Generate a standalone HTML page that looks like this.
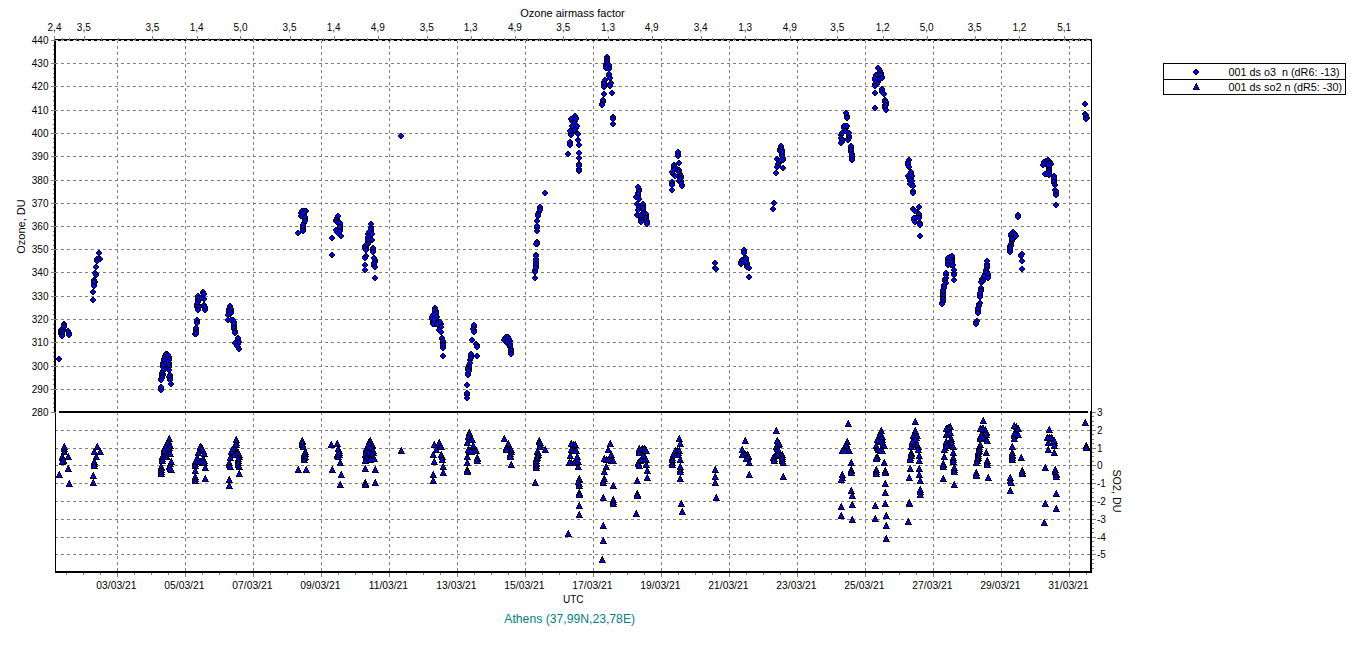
<!DOCTYPE html>
<html><head><meta charset="utf-8"><title>Ozone chart</title>
<style>html,body{margin:0;padding:0;background:#fff;}svg{display:block;}</style></head>
<body><svg width="1361" height="645" viewBox="0 0 1361 645">
<rect width="1361" height="645" fill="#fff"/>
<g stroke="#808080" stroke-width="1" stroke-dasharray="3 3" shape-rendering="crispEdges" fill="none">
<path d="M117.5 40V572"/>
<path d="M185.5 40V572"/>
<path d="M253.5 40V572"/>
<path d="M321.5 40V572"/>
<path d="M389.5 40V572"/>
<path d="M457.5 40V572"/>
<path d="M525.5 40V572"/>
<path d="M593.5 40V572"/>
<path d="M661.5 40V572"/>
<path d="M729.5 40V572"/>
<path d="M797.5 40V572"/>
<path d="M865.5 40V572"/>
<path d="M933.5 40V572"/>
<path d="M1001.5 40V572"/>
<path d="M1069.5 40V572"/>
<path d="M55 63.5H1091"/>
<path d="M55 86.5H1091"/>
<path d="M55 110.5H1091"/>
<path d="M55 133.5H1091"/>
<path d="M55 156.5H1091"/>
<path d="M55 180.5H1091"/>
<path d="M55 203.5H1091"/>
<path d="M55 226.5H1091"/>
<path d="M55 249.5H1091"/>
<path d="M55 272.5H1091"/>
<path d="M55 296.5H1091"/>
<path d="M55 319.5H1091"/>
<path d="M55 342.5H1091"/>
<path d="M55 366.5H1091"/>
<path d="M55 389.5H1091"/>
<path d="M55 430.5H1091"/>
<path d="M55 448.5H1091"/>
<path d="M55 465.5H1091"/>
<path d="M55 483.5H1091"/>
<path d="M55 501.5H1091"/>
<path d="M55 519.5H1091"/>
<path d="M55 537.5H1091"/>
<path d="M55 554.5H1091"/>
</g>
<g fill="#0000ff" stroke="#000" stroke-width="1" stroke-linejoin="miter" shape-rendering="crispEdges">
<path d="M64 321l3 3 -3 3 -3 -3z"/>
<path d="M64 322l3 3 -3 3 -3 -3z"/>
<path d="M64 323l3 3 -3 3 -3 -3z"/>
<path d="M62 326l3 3 -3 3 -3 -3z"/>
<path d="M63 326l3 3 -3 3 -3 -3z"/>
<path d="M61 328l3 3 -3 3 -3 -3z"/>
<path d="M62 328l3 3 -3 3 -3 -3z"/>
<path d="M62 329l3 3 -3 3 -3 -3z"/>
<path d="M62 329l3 3 -3 3 -3 -3z"/>
<path d="M61 330l3 3 -3 3 -3 -3z"/>
<path d="M61 331l3 3 -3 3 -3 -3z"/>
<path d="M62 330l3 3 -3 3 -3 -3z"/>
<path d="M62 332l3 3 -3 3 -3 -3z"/>
<path d="M69 330l3 3 -3 3 -3 -3z"/>
<path d="M99 256l3 3 -3 3 -3 -3z"/>
<path d="M98 257l3 3 -3 3 -3 -3z"/>
<path d="M97 257l3 3 -3 3 -3 -3z"/>
<path d="M96 271l3 3 -3 3 -3 -3z"/>
<path d="M94 278l3 3 -3 3 -3 -3z"/>
<path d="M94 278l3 3 -3 3 -3 -3z"/>
<path d="M94 279l3 3 -3 3 -3 -3z"/>
<path d="M94 281l3 3 -3 3 -3 -3z"/>
<path d="M94 281l3 3 -3 3 -3 -3z"/>
<path d="M166 351l3 3 -3 3 -3 -3z"/>
<path d="M165 353l3 3 -3 3 -3 -3z"/>
<path d="M167 352l3 3 -3 3 -3 -3z"/>
<path d="M166 353l3 3 -3 3 -3 -3z"/>
<path d="M167 351l3 3 -3 3 -3 -3z"/>
<path d="M164 356l3 3 -3 3 -3 -3z"/>
<path d="M166 353l3 3 -3 3 -3 -3z"/>
<path d="M167 355l3 3 -3 3 -3 -3z"/>
<path d="M164 359l3 3 -3 3 -3 -3z"/>
<path d="M163 360l3 3 -3 3 -3 -3z"/>
<path d="M166 358l3 3 -3 3 -3 -3z"/>
<path d="M163 362l3 3 -3 3 -3 -3z"/>
<path d="M164 363l3 3 -3 3 -3 -3z"/>
<path d="M163 364l3 3 -3 3 -3 -3z"/>
<path d="M163 368l3 3 -3 3 -3 -3z"/>
<path d="M163 371l3 3 -3 3 -3 -3z"/>
<path d="M162 372l3 3 -3 3 -3 -3z"/>
<path d="M162 373l3 3 -3 3 -3 -3z"/>
<path d="M161 376l3 3 -3 3 -3 -3z"/>
<path d="M161 385l3 3 -3 3 -3 -3z"/>
<path d="M169 354l3 3 -3 3 -3 -3z"/>
<path d="M169 357l3 3 -3 3 -3 -3z"/>
<path d="M169 360l3 3 -3 3 -3 -3z"/>
<path d="M169 364l3 3 -3 3 -3 -3z"/>
<path d="M170 373l3 3 -3 3 -3 -3z"/>
<path d="M170 374l3 3 -3 3 -3 -3z"/>
<path d="M170 375l3 3 -3 3 -3 -3z"/>
<path d="M203 290l3 3 -3 3 -3 -3z"/>
<path d="M198 294l3 3 -3 3 -3 -3z"/>
<path d="M199 294l3 3 -3 3 -3 -3z"/>
<path d="M199 295l3 3 -3 3 -3 -3z"/>
<path d="M198 297l3 3 -3 3 -3 -3z"/>
<path d="M202 295l3 3 -3 3 -3 -3z"/>
<path d="M199 297l3 3 -3 3 -3 -3z"/>
<path d="M198 299l3 3 -3 3 -3 -3z"/>
<path d="M197 303l3 3 -3 3 -3 -3z"/>
<path d="M198 302l3 3 -3 3 -3 -3z"/>
<path d="M204 303l3 3 -3 3 -3 -3z"/>
<path d="M198 304l3 3 -3 3 -3 -3z"/>
<path d="M198 306l3 3 -3 3 -3 -3z"/>
<path d="M198 305l3 3 -3 3 -3 -3z"/>
<path d="M205 306l3 3 -3 3 -3 -3z"/>
<path d="M197 319l3 3 -3 3 -3 -3z"/>
<path d="M196 327l3 3 -3 3 -3 -3z"/>
<path d="M196 330l3 3 -3 3 -3 -3z"/>
<path d="M196 330l3 3 -3 3 -3 -3z"/>
<path d="M196 331l3 3 -3 3 -3 -3z"/>
<path d="M230 305l3 3 -3 3 -3 -3z"/>
<path d="M229 306l3 3 -3 3 -3 -3z"/>
<path d="M230 307l3 3 -3 3 -3 -3z"/>
<path d="M231 308l3 3 -3 3 -3 -3z"/>
<path d="M230 309l3 3 -3 3 -3 -3z"/>
<path d="M229 310l3 3 -3 3 -3 -3z"/>
<path d="M230 311l3 3 -3 3 -3 -3z"/>
<path d="M231 317l3 3 -3 3 -3 -3z"/>
<path d="M234 319l3 3 -3 3 -3 -3z"/>
<path d="M234 323l3 3 -3 3 -3 -3z"/>
<path d="M234 326l3 3 -3 3 -3 -3z"/>
<path d="M235 329l3 3 -3 3 -3 -3z"/>
<path d="M238 337l3 3 -3 3 -3 -3z"/>
<path d="M237 339l3 3 -3 3 -3 -3z"/>
<path d="M238 341l3 3 -3 3 -3 -3z"/>
<path d="M236 341l3 3 -3 3 -3 -3z"/>
<path d="M238 344l3 3 -3 3 -3 -3z"/>
<path d="M304 208l3 3 -3 3 -3 -3z"/>
<path d="M302 209l3 3 -3 3 -3 -3z"/>
<path d="M301 210l3 3 -3 3 -3 -3z"/>
<path d="M305 209l3 3 -3 3 -3 -3z"/>
<path d="M302 211l3 3 -3 3 -3 -3z"/>
<path d="M304 212l3 3 -3 3 -3 -3z"/>
<path d="M303 213l3 3 -3 3 -3 -3z"/>
<path d="M305 216l3 3 -3 3 -3 -3z"/>
<path d="M304 220l3 3 -3 3 -3 -3z"/>
<path d="M303 223l3 3 -3 3 -3 -3z"/>
<path d="M303 226l3 3 -3 3 -3 -3z"/>
<path d="M337 215l3 3 -3 3 -3 -3z"/>
<path d="M336 218l3 3 -3 3 -3 -3z"/>
<path d="M339 219l3 3 -3 3 -3 -3z"/>
<path d="M340 222l3 3 -3 3 -3 -3z"/>
<path d="M338 226l3 3 -3 3 -3 -3z"/>
<path d="M340 226l3 3 -3 3 -3 -3z"/>
<path d="M338 227l3 3 -3 3 -3 -3z"/>
<path d="M337 229l3 3 -3 3 -3 -3z"/>
<path d="M339 229l3 3 -3 3 -3 -3z"/>
<path d="M340 232l3 3 -3 3 -3 -3z"/>
<path d="M371 224l3 3 -3 3 -3 -3z"/>
<path d="M370 228l3 3 -3 3 -3 -3z"/>
<path d="M371 228l3 3 -3 3 -3 -3z"/>
<path d="M371 230l3 3 -3 3 -3 -3z"/>
<path d="M368 231l3 3 -3 3 -3 -3z"/>
<path d="M368 235l3 3 -3 3 -3 -3z"/>
<path d="M370 237l3 3 -3 3 -3 -3z"/>
<path d="M368 239l3 3 -3 3 -3 -3z"/>
<path d="M367 241l3 3 -3 3 -3 -3z"/>
<path d="M366 243l3 3 -3 3 -3 -3z"/>
<path d="M365 243l3 3 -3 3 -3 -3z"/>
<path d="M366 244l3 3 -3 3 -3 -3z"/>
<path d="M366 246l3 3 -3 3 -3 -3z"/>
<path d="M373 247l3 3 -3 3 -3 -3z"/>
<path d="M365 254l3 3 -3 3 -3 -3z"/>
<path d="M375 257l3 3 -3 3 -3 -3z"/>
<path d="M374 260l3 3 -3 3 -3 -3z"/>
<path d="M374 263l3 3 -3 3 -3 -3z"/>
<path d="M435 306l3 3 -3 3 -3 -3z"/>
<path d="M436 308l3 3 -3 3 -3 -3z"/>
<path d="M435 309l3 3 -3 3 -3 -3z"/>
<path d="M434 311l3 3 -3 3 -3 -3z"/>
<path d="M436 312l3 3 -3 3 -3 -3z"/>
<path d="M435 313l3 3 -3 3 -3 -3z"/>
<path d="M432 314l3 3 -3 3 -3 -3z"/>
<path d="M433 315l3 3 -3 3 -3 -3z"/>
<path d="M435 315l3 3 -3 3 -3 -3z"/>
<path d="M436 316l3 3 -3 3 -3 -3z"/>
<path d="M433 316l3 3 -3 3 -3 -3z"/>
<path d="M433 319l3 3 -3 3 -3 -3z"/>
<path d="M439 320l3 3 -3 3 -3 -3z"/>
<path d="M441 321l3 3 -3 3 -3 -3z"/>
<path d="M435 321l3 3 -3 3 -3 -3z"/>
<path d="M439 322l3 3 -3 3 -3 -3z"/>
<path d="M440 325l3 3 -3 3 -3 -3z"/>
<path d="M440 328l3 3 -3 3 -3 -3z"/>
<path d="M442 336l3 3 -3 3 -3 -3z"/>
<path d="M443 340l3 3 -3 3 -3 -3z"/>
<path d="M443 343l3 3 -3 3 -3 -3z"/>
<path d="M474 324l3 3 -3 3 -3 -3z"/>
<path d="M474 327l3 3 -3 3 -3 -3z"/>
<path d="M477 342l3 3 -3 3 -3 -3z"/>
<path d="M471 353l3 3 -3 3 -3 -3z"/>
<path d="M470 357l3 3 -3 3 -3 -3z"/>
<path d="M469 362l3 3 -3 3 -3 -3z"/>
<path d="M468 365l3 3 -3 3 -3 -3z"/>
<path d="M469 366l3 3 -3 3 -3 -3z"/>
<path d="M468 367l3 3 -3 3 -3 -3z"/>
<path d="M468 370l3 3 -3 3 -3 -3z"/>
<path d="M467 392l3 3 -3 3 -3 -3z"/>
<path d="M505 335l3 3 -3 3 -3 -3z"/>
<path d="M506 336l3 3 -3 3 -3 -3z"/>
<path d="M505 338l3 3 -3 3 -3 -3z"/>
<path d="M507 334l3 3 -3 3 -3 -3z"/>
<path d="M508 335l3 3 -3 3 -3 -3z"/>
<path d="M507 337l3 3 -3 3 -3 -3z"/>
<path d="M508 335l3 3 -3 3 -3 -3z"/>
<path d="M508 337l3 3 -3 3 -3 -3z"/>
<path d="M508 337l3 3 -3 3 -3 -3z"/>
<path d="M510 338l3 3 -3 3 -3 -3z"/>
<path d="M509 340l3 3 -3 3 -3 -3z"/>
<path d="M508 341l3 3 -3 3 -3 -3z"/>
<path d="M510 342l3 3 -3 3 -3 -3z"/>
<path d="M510 344l3 3 -3 3 -3 -3z"/>
<path d="M511 347l3 3 -3 3 -3 -3z"/>
<path d="M511 348l3 3 -3 3 -3 -3z"/>
<path d="M511 349l3 3 -3 3 -3 -3z"/>
<path d="M540 206l3 3 -3 3 -3 -3z"/>
<path d="M539 209l3 3 -3 3 -3 -3z"/>
<path d="M538 212l3 3 -3 3 -3 -3z"/>
<path d="M537 225l3 3 -3 3 -3 -3z"/>
<path d="M537 241l3 3 -3 3 -3 -3z"/>
<path d="M536 253l3 3 -3 3 -3 -3z"/>
<path d="M536 256l3 3 -3 3 -3 -3z"/>
<path d="M536 259l3 3 -3 3 -3 -3z"/>
<path d="M536 263l3 3 -3 3 -3 -3z"/>
<path d="M535 267l3 3 -3 3 -3 -3z"/>
<path d="M576 115l3 3 -3 3 -3 -3z"/>
<path d="M572 118l3 3 -3 3 -3 -3z"/>
<path d="M575 118l3 3 -3 3 -3 -3z"/>
<path d="M573 122l3 3 -3 3 -3 -3z"/>
<path d="M576 125l3 3 -3 3 -3 -3z"/>
<path d="M572 128l3 3 -3 3 -3 -3z"/>
<path d="M571 130l3 3 -3 3 -3 -3z"/>
<path d="M576 129l3 3 -3 3 -3 -3z"/>
<path d="M570 140l3 3 -3 3 -3 -3z"/>
<path d="M579 162l3 3 -3 3 -3 -3z"/>
<path d="M579 166l3 3 -3 3 -3 -3z"/>
<path d="M607 55l3 3 -3 3 -3 -3z"/>
<path d="M607 58l3 3 -3 3 -3 -3z"/>
<path d="M606 61l3 3 -3 3 -3 -3z"/>
<path d="M608 61l3 3 -3 3 -3 -3z"/>
<path d="M607 62l3 3 -3 3 -3 -3z"/>
<path d="M607 64l3 3 -3 3 -3 -3z"/>
<path d="M606 64l3 3 -3 3 -3 -3z"/>
<path d="M609 64l3 3 -3 3 -3 -3z"/>
<path d="M607 63l3 3 -3 3 -3 -3z"/>
<path d="M607 65l3 3 -3 3 -3 -3z"/>
<path d="M609 73l3 3 -3 3 -3 -3z"/>
<path d="M604 79l3 3 -3 3 -3 -3z"/>
<path d="M610 81l3 3 -3 3 -3 -3z"/>
<path d="M604 82l3 3 -3 3 -3 -3z"/>
<path d="M603 99l3 3 -3 3 -3 -3z"/>
<path d="M602 101l3 3 -3 3 -3 -3z"/>
<path d="M613 115l3 3 -3 3 -3 -3z"/>
<path d="M639 186l3 3 -3 3 -3 -3z"/>
<path d="M638 190l3 3 -3 3 -3 -3z"/>
<path d="M637 193l3 3 -3 3 -3 -3z"/>
<path d="M638 193l3 3 -3 3 -3 -3z"/>
<path d="M638 195l3 3 -3 3 -3 -3z"/>
<path d="M638 202l3 3 -3 3 -3 -3z"/>
<path d="M641 203l3 3 -3 3 -3 -3z"/>
<path d="M643 203l3 3 -3 3 -3 -3z"/>
<path d="M641 204l3 3 -3 3 -3 -3z"/>
<path d="M639 205l3 3 -3 3 -3 -3z"/>
<path d="M643 207l3 3 -3 3 -3 -3z"/>
<path d="M645 211l3 3 -3 3 -3 -3z"/>
<path d="M642 211l3 3 -3 3 -3 -3z"/>
<path d="M639 213l3 3 -3 3 -3 -3z"/>
<path d="M646 213l3 3 -3 3 -3 -3z"/>
<path d="M641 215l3 3 -3 3 -3 -3z"/>
<path d="M646 216l3 3 -3 3 -3 -3z"/>
<path d="M641 218l3 3 -3 3 -3 -3z"/>
<path d="M647 219l3 3 -3 3 -3 -3z"/>
<path d="M678 151l3 3 -3 3 -3 -3z"/>
<path d="M674 163l3 3 -3 3 -3 -3z"/>
<path d="M674 165l3 3 -3 3 -3 -3z"/>
<path d="M675 165l3 3 -3 3 -3 -3z"/>
<path d="M677 167l3 3 -3 3 -3 -3z"/>
<path d="M673 168l3 3 -3 3 -3 -3z"/>
<path d="M679 168l3 3 -3 3 -3 -3z"/>
<path d="M673 171l3 3 -3 3 -3 -3z"/>
<path d="M680 171l3 3 -3 3 -3 -3z"/>
<path d="M681 174l3 3 -3 3 -3 -3z"/>
<path d="M680 175l3 3 -3 3 -3 -3z"/>
<path d="M680 177l3 3 -3 3 -3 -3z"/>
<path d="M681 178l3 3 -3 3 -3 -3z"/>
<path d="M680 179l3 3 -3 3 -3 -3z"/>
<path d="M672 180l3 3 -3 3 -3 -3z"/>
<path d="M682 182l3 3 -3 3 -3 -3z"/>
<path d="M715 265l3 3 -3 3 -3 -3z"/>
<path d="M744 249l3 3 -3 3 -3 -3z"/>
<path d="M744 256l3 3 -3 3 -3 -3z"/>
<path d="M745 257l3 3 -3 3 -3 -3z"/>
<path d="M746 257l3 3 -3 3 -3 -3z"/>
<path d="M742 258l3 3 -3 3 -3 -3z"/>
<path d="M741 259l3 3 -3 3 -3 -3z"/>
<path d="M745 259l3 3 -3 3 -3 -3z"/>
<path d="M742 259l3 3 -3 3 -3 -3z"/>
<path d="M747 262l3 3 -3 3 -3 -3z"/>
<path d="M748 264l3 3 -3 3 -3 -3z"/>
<path d="M781 145l3 3 -3 3 -3 -3z"/>
<path d="M780 146l3 3 -3 3 -3 -3z"/>
<path d="M780 147l3 3 -3 3 -3 -3z"/>
<path d="M782 147l3 3 -3 3 -3 -3z"/>
<path d="M781 149l3 3 -3 3 -3 -3z"/>
<path d="M782 151l3 3 -3 3 -3 -3z"/>
<path d="M783 155l3 3 -3 3 -3 -3z"/>
<path d="M778 157l3 3 -3 3 -3 -3z"/>
<path d="M781 157l3 3 -3 3 -3 -3z"/>
<path d="M779 160l3 3 -3 3 -3 -3z"/>
<path d="M778 163l3 3 -3 3 -3 -3z"/>
<path d="M847 113l3 3 -3 3 -3 -3z"/>
<path d="M845 123l3 3 -3 3 -3 -3z"/>
<path d="M844 125l3 3 -3 3 -3 -3z"/>
<path d="M846 125l3 3 -3 3 -3 -3z"/>
<path d="M843 129l3 3 -3 3 -3 -3z"/>
<path d="M847 129l3 3 -3 3 -3 -3z"/>
<path d="M841 132l3 3 -3 3 -3 -3z"/>
<path d="M849 133l3 3 -3 3 -3 -3z"/>
<path d="M842 136l3 3 -3 3 -3 -3z"/>
<path d="M848 136l3 3 -3 3 -3 -3z"/>
<path d="M842 139l3 3 -3 3 -3 -3z"/>
<path d="M851 145l3 3 -3 3 -3 -3z"/>
<path d="M851 149l3 3 -3 3 -3 -3z"/>
<path d="M852 152l3 3 -3 3 -3 -3z"/>
<path d="M852 155l3 3 -3 3 -3 -3z"/>
<path d="M879 66l3 3 -3 3 -3 -3z"/>
<path d="M880 69l3 3 -3 3 -3 -3z"/>
<path d="M880 70l3 3 -3 3 -3 -3z"/>
<path d="M881 71l3 3 -3 3 -3 -3z"/>
<path d="M876 74l3 3 -3 3 -3 -3z"/>
<path d="M882 74l3 3 -3 3 -3 -3z"/>
<path d="M877 76l3 3 -3 3 -3 -3z"/>
<path d="M875 77l3 3 -3 3 -3 -3z"/>
<path d="M880 76l3 3 -3 3 -3 -3z"/>
<path d="M877 78l3 3 -3 3 -3 -3z"/>
<path d="M878 79l3 3 -3 3 -3 -3z"/>
<path d="M876 80l3 3 -3 3 -3 -3z"/>
<path d="M875 81l3 3 -3 3 -3 -3z"/>
<path d="M876 82l3 3 -3 3 -3 -3z"/>
<path d="M882 87l3 3 -3 3 -3 -3z"/>
<path d="M883 90l3 3 -3 3 -3 -3z"/>
<path d="M885 98l3 3 -3 3 -3 -3z"/>
<path d="M885 99l3 3 -3 3 -3 -3z"/>
<path d="M886 101l3 3 -3 3 -3 -3z"/>
<path d="M885 102l3 3 -3 3 -3 -3z"/>
<path d="M885 103l3 3 -3 3 -3 -3z"/>
<path d="M885 105l3 3 -3 3 -3 -3z"/>
<path d="M908 159l3 3 -3 3 -3 -3z"/>
<path d="M908 162l3 3 -3 3 -3 -3z"/>
<path d="M910 171l3 3 -3 3 -3 -3z"/>
<path d="M911 171l3 3 -3 3 -3 -3z"/>
<path d="M910 173l3 3 -3 3 -3 -3z"/>
<path d="M909 175l3 3 -3 3 -3 -3z"/>
<path d="M911 175l3 3 -3 3 -3 -3z"/>
<path d="M911 177l3 3 -3 3 -3 -3z"/>
<path d="M910 178l3 3 -3 3 -3 -3z"/>
<path d="M911 179l3 3 -3 3 -3 -3z"/>
<path d="M912 181l3 3 -3 3 -3 -3z"/>
<path d="M911 182l3 3 -3 3 -3 -3z"/>
<path d="M913 189l3 3 -3 3 -3 -3z"/>
<path d="M914 207l3 3 -3 3 -3 -3z"/>
<path d="M917 209l3 3 -3 3 -3 -3z"/>
<path d="M919 213l3 3 -3 3 -3 -3z"/>
<path d="M916 215l3 3 -3 3 -3 -3z"/>
<path d="M914 217l3 3 -3 3 -3 -3z"/>
<path d="M920 221l3 3 -3 3 -3 -3z"/>
<path d="M950 254l3 3 -3 3 -3 -3z"/>
<path d="M952 255l3 3 -3 3 -3 -3z"/>
<path d="M950 256l3 3 -3 3 -3 -3z"/>
<path d="M948 257l3 3 -3 3 -3 -3z"/>
<path d="M950 258l3 3 -3 3 -3 -3z"/>
<path d="M952 258l3 3 -3 3 -3 -3z"/>
<path d="M950 259l3 3 -3 3 -3 -3z"/>
<path d="M948 261l3 3 -3 3 -3 -3z"/>
<path d="M952 261l3 3 -3 3 -3 -3z"/>
<path d="M950 261l3 3 -3 3 -3 -3z"/>
<path d="M951 262l3 3 -3 3 -3 -3z"/>
<path d="M954 270l3 3 -3 3 -3 -3z"/>
<path d="M946 272l3 3 -3 3 -3 -3z"/>
<path d="M945 276l3 3 -3 3 -3 -3z"/>
<path d="M945 278l3 3 -3 3 -3 -3z"/>
<path d="M945 281l3 3 -3 3 -3 -3z"/>
<path d="M944 284l3 3 -3 3 -3 -3z"/>
<path d="M943 287l3 3 -3 3 -3 -3z"/>
<path d="M943 290l3 3 -3 3 -3 -3z"/>
<path d="M943 294l3 3 -3 3 -3 -3z"/>
<path d="M943 298l3 3 -3 3 -3 -3z"/>
<path d="M943 299l3 3 -3 3 -3 -3z"/>
<path d="M942 300l3 3 -3 3 -3 -3z"/>
<path d="M987 261l3 3 -3 3 -3 -3z"/>
<path d="M987 265l3 3 -3 3 -3 -3z"/>
<path d="M986 268l3 3 -3 3 -3 -3z"/>
<path d="M987 269l3 3 -3 3 -3 -3z"/>
<path d="M987 270l3 3 -3 3 -3 -3z"/>
<path d="M985 271l3 3 -3 3 -3 -3z"/>
<path d="M986 272l3 3 -3 3 -3 -3z"/>
<path d="M988 273l3 3 -3 3 -3 -3z"/>
<path d="M986 274l3 3 -3 3 -3 -3z"/>
<path d="M983 275l3 3 -3 3 -3 -3z"/>
<path d="M983 277l3 3 -3 3 -3 -3z"/>
<path d="M982 278l3 3 -3 3 -3 -3z"/>
<path d="M982 279l3 3 -3 3 -3 -3z"/>
<path d="M981 287l3 3 -3 3 -3 -3z"/>
<path d="M980 290l3 3 -3 3 -3 -3z"/>
<path d="M980 293l3 3 -3 3 -3 -3z"/>
<path d="M979 301l3 3 -3 3 -3 -3z"/>
<path d="M978 305l3 3 -3 3 -3 -3z"/>
<path d="M978 308l3 3 -3 3 -3 -3z"/>
<path d="M976 319l3 3 -3 3 -3 -3z"/>
<path d="M1018 213l3 3 -3 3 -3 -3z"/>
<path d="M1014 230l3 3 -3 3 -3 -3z"/>
<path d="M1012 230l3 3 -3 3 -3 -3z"/>
<path d="M1013 231l3 3 -3 3 -3 -3z"/>
<path d="M1015 232l3 3 -3 3 -3 -3z"/>
<path d="M1013 233l3 3 -3 3 -3 -3z"/>
<path d="M1011 233l3 3 -3 3 -3 -3z"/>
<path d="M1014 234l3 3 -3 3 -3 -3z"/>
<path d="M1014 235l3 3 -3 3 -3 -3z"/>
<path d="M1012 235l3 3 -3 3 -3 -3z"/>
<path d="M1012 238l3 3 -3 3 -3 -3z"/>
<path d="M1011 242l3 3 -3 3 -3 -3z"/>
<path d="M1010 243l3 3 -3 3 -3 -3z"/>
<path d="M1010 244l3 3 -3 3 -3 -3z"/>
<path d="M1010 247l3 3 -3 3 -3 -3z"/>
<path d="M1021 252l3 3 -3 3 -3 -3z"/>
<path d="M1046 158l3 3 -3 3 -3 -3z"/>
<path d="M1045 160l3 3 -3 3 -3 -3z"/>
<path d="M1044 160l3 3 -3 3 -3 -3z"/>
<path d="M1047 159l3 3 -3 3 -3 -3z"/>
<path d="M1049 158l3 3 -3 3 -3 -3z"/>
<path d="M1050 159l3 3 -3 3 -3 -3z"/>
<path d="M1047 160l3 3 -3 3 -3 -3z"/>
<path d="M1044 161l3 3 -3 3 -3 -3z"/>
<path d="M1047 162l3 3 -3 3 -3 -3z"/>
<path d="M1050 160l3 3 -3 3 -3 -3z"/>
<path d="M1049 161l3 3 -3 3 -3 -3z"/>
<path d="M1050 162l3 3 -3 3 -3 -3z"/>
<path d="M1049 165l3 3 -3 3 -3 -3z"/>
<path d="M1049 168l3 3 -3 3 -3 -3z"/>
<path d="M1047 170l3 3 -3 3 -3 -3z"/>
<path d="M1049 171l3 3 -3 3 -3 -3z"/>
<path d="M1047 171l3 3 -3 3 -3 -3z"/>
<path d="M1054 174l3 3 -3 3 -3 -3z"/>
<path d="M1054 177l3 3 -3 3 -3 -3z"/>
<path d="M1054 180l3 3 -3 3 -3 -3z"/>
<path d="M1056 188l3 3 -3 3 -3 -3z"/>
<path d="M1056 191l3 3 -3 3 -3 -3z"/>
<path d="M1085 111l3 3 -3 3 -3 -3z"/>
<path d="M1086 113l3 3 -3 3 -3 -3z"/>
<path d="M1086 114l3 3 -3 3 -3 -3z"/>
<path d="M1086 114l3 3 -3 3 -3 -3z"/>
<path d="M1086 116l3 3 -3 3 -3 -3z"/>
<path d="M64 321l3 3 -3 3 -3 -3z"/>
<path d="M64 322l3 3 -3 3 -3 -3z"/>
<path d="M64 324l3 3 -3 3 -3 -3z"/>
<path d="M61 327l3 3 -3 3 -3 -3z"/>
<path d="M61 329l3 3 -3 3 -3 -3z"/>
<path d="M62 329l3 3 -3 3 -3 -3z"/>
<path d="M62 331l3 3 -3 3 -3 -3z"/>
<path d="M62 333l3 3 -3 3 -3 -3z"/>
<path d="M68 328l3 3 -3 3 -3 -3z"/>
<path d="M69 332l3 3 -3 3 -3 -3z"/>
<path d="M59 356l3 3 -3 3 -3 -3z"/>
<path d="M99 250l3 3 -3 3 -3 -3z"/>
<path d="M100 256l3 3 -3 3 -3 -3z"/>
<path d="M97 256l3 3 -3 3 -3 -3z"/>
<path d="M97 258l3 3 -3 3 -3 -3z"/>
<path d="M96 264l3 3 -3 3 -3 -3z"/>
<path d="M95 270l3 3 -3 3 -3 -3z"/>
<path d="M96 272l3 3 -3 3 -3 -3z"/>
<path d="M94 277l3 3 -3 3 -3 -3z"/>
<path d="M95 279l3 3 -3 3 -3 -3z"/>
<path d="M94 279l3 3 -3 3 -3 -3z"/>
<path d="M94 283l3 3 -3 3 -3 -3z"/>
<path d="M93 289l3 3 -3 3 -3 -3z"/>
<path d="M93 297l3 3 -3 3 -3 -3z"/>
<path d="M166 351l3 3 -3 3 -3 -3z"/>
<path d="M167 351l3 3 -3 3 -3 -3z"/>
<path d="M165 354l3 3 -3 3 -3 -3z"/>
<path d="M164 357l3 3 -3 3 -3 -3z"/>
<path d="M164 361l3 3 -3 3 -3 -3z"/>
<path d="M163 362l3 3 -3 3 -3 -3z"/>
<path d="M164 366l3 3 -3 3 -3 -3z"/>
<path d="M162 370l3 3 -3 3 -3 -3z"/>
<path d="M163 372l3 3 -3 3 -3 -3z"/>
<path d="M162 375l3 3 -3 3 -3 -3z"/>
<path d="M161 377l3 3 -3 3 -3 -3z"/>
<path d="M161 384l3 3 -3 3 -3 -3z"/>
<path d="M161 387l3 3 -3 3 -3 -3z"/>
<path d="M168 352l3 3 -3 3 -3 -3z"/>
<path d="M169 356l3 3 -3 3 -3 -3z"/>
<path d="M168 359l3 3 -3 3 -3 -3z"/>
<path d="M169 362l3 3 -3 3 -3 -3z"/>
<path d="M169 367l3 3 -3 3 -3 -3z"/>
<path d="M170 372l3 3 -3 3 -3 -3z"/>
<path d="M169 374l3 3 -3 3 -3 -3z"/>
<path d="M170 377l3 3 -3 3 -3 -3z"/>
<path d="M171 381l3 3 -3 3 -3 -3z"/>
<path d="M203 289l3 3 -3 3 -3 -3z"/>
<path d="M204 291l3 3 -3 3 -3 -3z"/>
<path d="M198 293l3 3 -3 3 -3 -3z"/>
<path d="M198 295l3 3 -3 3 -3 -3z"/>
<path d="M200 295l3 3 -3 3 -3 -3z"/>
<path d="M204 296l3 3 -3 3 -3 -3z"/>
<path d="M198 298l3 3 -3 3 -3 -3z"/>
<path d="M197 301l3 3 -3 3 -3 -3z"/>
<path d="M204 302l3 3 -3 3 -3 -3z"/>
<path d="M197 304l3 3 -3 3 -3 -3z"/>
<path d="M199 304l3 3 -3 3 -3 -3z"/>
<path d="M198 307l3 3 -3 3 -3 -3z"/>
<path d="M205 307l3 3 -3 3 -3 -3z"/>
<path d="M205 304l3 3 -3 3 -3 -3z"/>
<path d="M197 317l3 3 -3 3 -3 -3z"/>
<path d="M197 320l3 3 -3 3 -3 -3z"/>
<path d="M196 325l3 3 -3 3 -3 -3z"/>
<path d="M196 329l3 3 -3 3 -3 -3z"/>
<path d="M195 331l3 3 -3 3 -3 -3z"/>
<path d="M196 331l3 3 -3 3 -3 -3z"/>
<path d="M230 303l3 3 -3 3 -3 -3z"/>
<path d="M231 306l3 3 -3 3 -3 -3z"/>
<path d="M229 308l3 3 -3 3 -3 -3z"/>
<path d="M231 310l3 3 -3 3 -3 -3z"/>
<path d="M228 312l3 3 -3 3 -3 -3z"/>
<path d="M228 317l3 3 -3 3 -3 -3z"/>
<path d="M233 317l3 3 -3 3 -3 -3z"/>
<path d="M234 321l3 3 -3 3 -3 -3z"/>
<path d="M234 325l3 3 -3 3 -3 -3z"/>
<path d="M235 328l3 3 -3 3 -3 -3z"/>
<path d="M235 330l3 3 -3 3 -3 -3z"/>
<path d="M238 335l3 3 -3 3 -3 -3z"/>
<path d="M239 339l3 3 -3 3 -3 -3z"/>
<path d="M235 340l3 3 -3 3 -3 -3z"/>
<path d="M237 343l3 3 -3 3 -3 -3z"/>
<path d="M239 346l3 3 -3 3 -3 -3z"/>
<path d="M302 208l3 3 -3 3 -3 -3z"/>
<path d="M306 208l3 3 -3 3 -3 -3z"/>
<path d="M303 210l3 3 -3 3 -3 -3z"/>
<path d="M301 213l3 3 -3 3 -3 -3z"/>
<path d="M305 214l3 3 -3 3 -3 -3z"/>
<path d="M305 218l3 3 -3 3 -3 -3z"/>
<path d="M303 222l3 3 -3 3 -3 -3z"/>
<path d="M303 225l3 3 -3 3 -3 -3z"/>
<path d="M303 228l3 3 -3 3 -3 -3z"/>
<path d="M298 230l3 3 -3 3 -3 -3z"/>
<path d="M338 213l3 3 -3 3 -3 -3z"/>
<path d="M336 217l3 3 -3 3 -3 -3z"/>
<path d="M337 219l3 3 -3 3 -3 -3z"/>
<path d="M340 220l3 3 -3 3 -3 -3z"/>
<path d="M340 224l3 3 -3 3 -3 -3z"/>
<path d="M336 227l3 3 -3 3 -3 -3z"/>
<path d="M340 228l3 3 -3 3 -3 -3z"/>
<path d="M338 230l3 3 -3 3 -3 -3z"/>
<path d="M341 233l3 3 -3 3 -3 -3z"/>
<path d="M332 235l3 3 -3 3 -3 -3z"/>
<path d="M332 252l3 3 -3 3 -3 -3z"/>
<path d="M371 221l3 3 -3 3 -3 -3z"/>
<path d="M371 226l3 3 -3 3 -3 -3z"/>
<path d="M369 229l3 3 -3 3 -3 -3z"/>
<path d="M372 231l3 3 -3 3 -3 -3z"/>
<path d="M368 234l3 3 -3 3 -3 -3z"/>
<path d="M372 237l3 3 -3 3 -3 -3z"/>
<path d="M368 237l3 3 -3 3 -3 -3z"/>
<path d="M368 241l3 3 -3 3 -3 -3z"/>
<path d="M366 242l3 3 -3 3 -3 -3z"/>
<path d="M365 245l3 3 -3 3 -3 -3z"/>
<path d="M366 247l3 3 -3 3 -3 -3z"/>
<path d="M373 245l3 3 -3 3 -3 -3z"/>
<path d="M373 249l3 3 -3 3 -3 -3z"/>
<path d="M366 253l3 3 -3 3 -3 -3z"/>
<path d="M365 255l3 3 -3 3 -3 -3z"/>
<path d="M374 255l3 3 -3 3 -3 -3z"/>
<path d="M375 259l3 3 -3 3 -3 -3z"/>
<path d="M374 261l3 3 -3 3 -3 -3z"/>
<path d="M375 264l3 3 -3 3 -3 -3z"/>
<path d="M365 262l3 3 -3 3 -3 -3z"/>
<path d="M365 267l3 3 -3 3 -3 -3z"/>
<path d="M375 275l3 3 -3 3 -3 -3z"/>
<path d="M401 133l3 3 -3 3 -3 -3z"/>
<path d="M435 305l3 3 -3 3 -3 -3z"/>
<path d="M435 307l3 3 -3 3 -3 -3z"/>
<path d="M436 310l3 3 -3 3 -3 -3z"/>
<path d="M433 312l3 3 -3 3 -3 -3z"/>
<path d="M437 314l3 3 -3 3 -3 -3z"/>
<path d="M432 316l3 3 -3 3 -3 -3z"/>
<path d="M434 317l3 3 -3 3 -3 -3z"/>
<path d="M440 319l3 3 -3 3 -3 -3z"/>
<path d="M433 321l3 3 -3 3 -3 -3z"/>
<path d="M437 321l3 3 -3 3 -3 -3z"/>
<path d="M441 324l3 3 -3 3 -3 -3z"/>
<path d="M439 327l3 3 -3 3 -3 -3z"/>
<path d="M441 329l3 3 -3 3 -3 -3z"/>
<path d="M442 335l3 3 -3 3 -3 -3z"/>
<path d="M443 338l3 3 -3 3 -3 -3z"/>
<path d="M443 342l3 3 -3 3 -3 -3z"/>
<path d="M443 345l3 3 -3 3 -3 -3z"/>
<path d="M443 353l3 3 -3 3 -3 -3z"/>
<path d="M474 322l3 3 -3 3 -3 -3z"/>
<path d="M473 326l3 3 -3 3 -3 -3z"/>
<path d="M474 329l3 3 -3 3 -3 -3z"/>
<path d="M472 337l3 3 -3 3 -3 -3z"/>
<path d="M476 341l3 3 -3 3 -3 -3z"/>
<path d="M477 344l3 3 -3 3 -3 -3z"/>
<path d="M471 351l3 3 -3 3 -3 -3z"/>
<path d="M477 353l3 3 -3 3 -3 -3z"/>
<path d="M471 355l3 3 -3 3 -3 -3z"/>
<path d="M470 360l3 3 -3 3 -3 -3z"/>
<path d="M469 364l3 3 -3 3 -3 -3z"/>
<path d="M468 366l3 3 -3 3 -3 -3z"/>
<path d="M469 368l3 3 -3 3 -3 -3z"/>
<path d="M468 372l3 3 -3 3 -3 -3z"/>
<path d="M467 382l3 3 -3 3 -3 -3z"/>
<path d="M467 390l3 3 -3 3 -3 -3z"/>
<path d="M467 395l3 3 -3 3 -3 -3z"/>
<path d="M504 337l3 3 -3 3 -3 -3z"/>
<path d="M506 334l3 3 -3 3 -3 -3z"/>
<path d="M508 334l3 3 -3 3 -3 -3z"/>
<path d="M509 336l3 3 -3 3 -3 -3z"/>
<path d="M507 339l3 3 -3 3 -3 -3z"/>
<path d="M510 341l3 3 -3 3 -3 -3z"/>
<path d="M510 343l3 3 -3 3 -3 -3z"/>
<path d="M511 346l3 3 -3 3 -3 -3z"/>
<path d="M511 348l3 3 -3 3 -3 -3z"/>
<path d="M511 351l3 3 -3 3 -3 -3z"/>
<path d="M545 190l3 3 -3 3 -3 -3z"/>
<path d="M540 204l3 3 -3 3 -3 -3z"/>
<path d="M540 207l3 3 -3 3 -3 -3z"/>
<path d="M538 211l3 3 -3 3 -3 -3z"/>
<path d="M538 213l3 3 -3 3 -3 -3z"/>
<path d="M537 218l3 3 -3 3 -3 -3z"/>
<path d="M537 223l3 3 -3 3 -3 -3z"/>
<path d="M537 228l3 3 -3 3 -3 -3z"/>
<path d="M537 239l3 3 -3 3 -3 -3z"/>
<path d="M536 241l3 3 -3 3 -3 -3z"/>
<path d="M536 252l3 3 -3 3 -3 -3z"/>
<path d="M536 253l3 3 -3 3 -3 -3z"/>
<path d="M536 258l3 3 -3 3 -3 -3z"/>
<path d="M536 261l3 3 -3 3 -3 -3z"/>
<path d="M536 265l3 3 -3 3 -3 -3z"/>
<path d="M535 269l3 3 -3 3 -3 -3z"/>
<path d="M535 275l3 3 -3 3 -3 -3z"/>
<path d="M575 113l3 3 -3 3 -3 -3z"/>
<path d="M571 116l3 3 -3 3 -3 -3z"/>
<path d="M576 116l3 3 -3 3 -3 -3z"/>
<path d="M574 120l3 3 -3 3 -3 -3z"/>
<path d="M572 123l3 3 -3 3 -3 -3z"/>
<path d="M577 123l3 3 -3 3 -3 -3z"/>
<path d="M570 128l3 3 -3 3 -3 -3z"/>
<path d="M575 127l3 3 -3 3 -3 -3z"/>
<path d="M571 132l3 3 -3 3 -3 -3z"/>
<path d="M578 131l3 3 -3 3 -3 -3z"/>
<path d="M578 137l3 3 -3 3 -3 -3z"/>
<path d="M570 139l3 3 -3 3 -3 -3z"/>
<path d="M570 142l3 3 -3 3 -3 -3z"/>
<path d="M579 142l3 3 -3 3 -3 -3z"/>
<path d="M568 151l3 3 -3 3 -3 -3z"/>
<path d="M579 150l3 3 -3 3 -3 -3z"/>
<path d="M579 155l3 3 -3 3 -3 -3z"/>
<path d="M579 161l3 3 -3 3 -3 -3z"/>
<path d="M579 163l3 3 -3 3 -3 -3z"/>
<path d="M579 168l3 3 -3 3 -3 -3z"/>
<path d="M607 54l3 3 -3 3 -3 -3z"/>
<path d="M607 56l3 3 -3 3 -3 -3z"/>
<path d="M607 59l3 3 -3 3 -3 -3z"/>
<path d="M606 63l3 3 -3 3 -3 -3z"/>
<path d="M609 62l3 3 -3 3 -3 -3z"/>
<path d="M609 66l3 3 -3 3 -3 -3z"/>
<path d="M606 65l3 3 -3 3 -3 -3z"/>
<path d="M609 71l3 3 -3 3 -3 -3z"/>
<path d="M610 75l3 3 -3 3 -3 -3z"/>
<path d="M605 77l3 3 -3 3 -3 -3z"/>
<path d="M611 80l3 3 -3 3 -3 -3z"/>
<path d="M604 81l3 3 -3 3 -3 -3z"/>
<path d="M610 83l3 3 -3 3 -3 -3z"/>
<path d="M604 84l3 3 -3 3 -3 -3z"/>
<path d="M612 90l3 3 -3 3 -3 -3z"/>
<path d="M604 91l3 3 -3 3 -3 -3z"/>
<path d="M603 97l3 3 -3 3 -3 -3z"/>
<path d="M602 101l3 3 -3 3 -3 -3z"/>
<path d="M602 102l3 3 -3 3 -3 -3z"/>
<path d="M613 114l3 3 -3 3 -3 -3z"/>
<path d="M613 116l3 3 -3 3 -3 -3z"/>
<path d="M613 121l3 3 -3 3 -3 -3z"/>
<path d="M638 184l3 3 -3 3 -3 -3z"/>
<path d="M639 188l3 3 -3 3 -3 -3z"/>
<path d="M638 191l3 3 -3 3 -3 -3z"/>
<path d="M636 194l3 3 -3 3 -3 -3z"/>
<path d="M639 196l3 3 -3 3 -3 -3z"/>
<path d="M637 201l3 3 -3 3 -3 -3z"/>
<path d="M643 201l3 3 -3 3 -3 -3z"/>
<path d="M639 204l3 3 -3 3 -3 -3z"/>
<path d="M643 205l3 3 -3 3 -3 -3z"/>
<path d="M638 207l3 3 -3 3 -3 -3z"/>
<path d="M644 210l3 3 -3 3 -3 -3z"/>
<path d="M637 212l3 3 -3 3 -3 -3z"/>
<path d="M646 211l3 3 -3 3 -3 -3z"/>
<path d="M641 213l3 3 -3 3 -3 -3z"/>
<path d="M646 215l3 3 -3 3 -3 -3z"/>
<path d="M641 217l3 3 -3 3 -3 -3z"/>
<path d="M647 218l3 3 -3 3 -3 -3z"/>
<path d="M641 219l3 3 -3 3 -3 -3z"/>
<path d="M647 221l3 3 -3 3 -3 -3z"/>
<path d="M678 149l3 3 -3 3 -3 -3z"/>
<path d="M678 153l3 3 -3 3 -3 -3z"/>
<path d="M679 160l3 3 -3 3 -3 -3z"/>
<path d="M674 162l3 3 -3 3 -3 -3z"/>
<path d="M675 164l3 3 -3 3 -3 -3z"/>
<path d="M674 167l3 3 -3 3 -3 -3z"/>
<path d="M679 167l3 3 -3 3 -3 -3z"/>
<path d="M672 169l3 3 -3 3 -3 -3z"/>
<path d="M679 169l3 3 -3 3 -3 -3z"/>
<path d="M675 173l3 3 -3 3 -3 -3z"/>
<path d="M681 173l3 3 -3 3 -3 -3z"/>
<path d="M681 175l3 3 -3 3 -3 -3z"/>
<path d="M679 178l3 3 -3 3 -3 -3z"/>
<path d="M672 179l3 3 -3 3 -3 -3z"/>
<path d="M681 180l3 3 -3 3 -3 -3z"/>
<path d="M672 182l3 3 -3 3 -3 -3z"/>
<path d="M682 183l3 3 -3 3 -3 -3z"/>
<path d="M672 187l3 3 -3 3 -3 -3z"/>
<path d="M715 260l3 3 -3 3 -3 -3z"/>
<path d="M715 265l3 3 -3 3 -3 -3z"/>
<path d="M716 266l3 3 -3 3 -3 -3z"/>
<path d="M744 247l3 3 -3 3 -3 -3z"/>
<path d="M744 250l3 3 -3 3 -3 -3z"/>
<path d="M746 255l3 3 -3 3 -3 -3z"/>
<path d="M742 257l3 3 -3 3 -3 -3z"/>
<path d="M743 258l3 3 -3 3 -3 -3z"/>
<path d="M747 260l3 3 -3 3 -3 -3z"/>
<path d="M741 261l3 3 -3 3 -3 -3z"/>
<path d="M747 264l3 3 -3 3 -3 -3z"/>
<path d="M749 265l3 3 -3 3 -3 -3z"/>
<path d="M749 274l3 3 -3 3 -3 -3z"/>
<path d="M781 143l3 3 -3 3 -3 -3z"/>
<path d="M781 146l3 3 -3 3 -3 -3z"/>
<path d="M780 148l3 3 -3 3 -3 -3z"/>
<path d="M782 149l3 3 -3 3 -3 -3z"/>
<path d="M782 153l3 3 -3 3 -3 -3z"/>
<path d="M777 156l3 3 -3 3 -3 -3z"/>
<path d="M783 157l3 3 -3 3 -3 -3z"/>
<path d="M779 158l3 3 -3 3 -3 -3z"/>
<path d="M778 161l3 3 -3 3 -3 -3z"/>
<path d="M777 164l3 3 -3 3 -3 -3z"/>
<path d="M783 165l3 3 -3 3 -3 -3z"/>
<path d="M776 170l3 3 -3 3 -3 -3z"/>
<path d="M774 200l3 3 -3 3 -3 -3z"/>
<path d="M773 206l3 3 -3 3 -3 -3z"/>
<path d="M846 110l3 3 -3 3 -3 -3z"/>
<path d="M847 115l3 3 -3 3 -3 -3z"/>
<path d="M844 123l3 3 -3 3 -3 -3z"/>
<path d="M847 123l3 3 -3 3 -3 -3z"/>
<path d="M845 128l3 3 -3 3 -3 -3z"/>
<path d="M842 130l3 3 -3 3 -3 -3z"/>
<path d="M849 130l3 3 -3 3 -3 -3z"/>
<path d="M841 135l3 3 -3 3 -3 -3z"/>
<path d="M849 135l3 3 -3 3 -3 -3z"/>
<path d="M842 137l3 3 -3 3 -3 -3z"/>
<path d="M848 137l3 3 -3 3 -3 -3z"/>
<path d="M841 140l3 3 -3 3 -3 -3z"/>
<path d="M851 143l3 3 -3 3 -3 -3z"/>
<path d="M851 147l3 3 -3 3 -3 -3z"/>
<path d="M852 151l3 3 -3 3 -3 -3z"/>
<path d="M852 153l3 3 -3 3 -3 -3z"/>
<path d="M852 157l3 3 -3 3 -3 -3z"/>
<path d="M878 65l3 3 -3 3 -3 -3z"/>
<path d="M880 68l3 3 -3 3 -3 -3z"/>
<path d="M881 70l3 3 -3 3 -3 -3z"/>
<path d="M876 72l3 3 -3 3 -3 -3z"/>
<path d="M881 72l3 3 -3 3 -3 -3z"/>
<path d="M875 75l3 3 -3 3 -3 -3z"/>
<path d="M882 75l3 3 -3 3 -3 -3z"/>
<path d="M879 77l3 3 -3 3 -3 -3z"/>
<path d="M876 79l3 3 -3 3 -3 -3z"/>
<path d="M877 81l3 3 -3 3 -3 -3z"/>
<path d="M875 83l3 3 -3 3 -3 -3z"/>
<path d="M882 86l3 3 -3 3 -3 -3z"/>
<path d="M875 90l3 3 -3 3 -3 -3z"/>
<path d="M882 89l3 3 -3 3 -3 -3z"/>
<path d="M884 91l3 3 -3 3 -3 -3z"/>
<path d="M885 97l3 3 -3 3 -3 -3z"/>
<path d="M886 99l3 3 -3 3 -3 -3z"/>
<path d="M886 102l3 3 -3 3 -3 -3z"/>
<path d="M885 104l3 3 -3 3 -3 -3z"/>
<path d="M875 105l3 3 -3 3 -3 -3z"/>
<path d="M886 107l3 3 -3 3 -3 -3z"/>
<path d="M909 157l3 3 -3 3 -3 -3z"/>
<path d="M908 160l3 3 -3 3 -3 -3z"/>
<path d="M909 164l3 3 -3 3 -3 -3z"/>
<path d="M911 169l3 3 -3 3 -3 -3z"/>
<path d="M908 173l3 3 -3 3 -3 -3z"/>
<path d="M912 173l3 3 -3 3 -3 -3z"/>
<path d="M910 176l3 3 -3 3 -3 -3z"/>
<path d="M912 178l3 3 -3 3 -3 -3z"/>
<path d="M910 181l3 3 -3 3 -3 -3z"/>
<path d="M913 183l3 3 -3 3 -3 -3z"/>
<path d="M913 188l3 3 -3 3 -3 -3z"/>
<path d="M913 190l3 3 -3 3 -3 -3z"/>
<path d="M913 206l3 3 -3 3 -3 -3z"/>
<path d="M919 204l3 3 -3 3 -3 -3z"/>
<path d="M915 208l3 3 -3 3 -3 -3z"/>
<path d="M919 211l3 3 -3 3 -3 -3z"/>
<path d="M914 215l3 3 -3 3 -3 -3z"/>
<path d="M919 215l3 3 -3 3 -3 -3z"/>
<path d="M915 219l3 3 -3 3 -3 -3z"/>
<path d="M920 220l3 3 -3 3 -3 -3z"/>
<path d="M920 222l3 3 -3 3 -3 -3z"/>
<path d="M920 233l3 3 -3 3 -3 -3z"/>
<path d="M952 253l3 3 -3 3 -3 -3z"/>
<path d="M948 255l3 3 -3 3 -3 -3z"/>
<path d="M952 257l3 3 -3 3 -3 -3z"/>
<path d="M948 259l3 3 -3 3 -3 -3z"/>
<path d="M952 259l3 3 -3 3 -3 -3z"/>
<path d="M953 262l3 3 -3 3 -3 -3z"/>
<path d="M948 262l3 3 -3 3 -3 -3z"/>
<path d="M954 267l3 3 -3 3 -3 -3z"/>
<path d="M946 270l3 3 -3 3 -3 -3z"/>
<path d="M954 272l3 3 -3 3 -3 -3z"/>
<path d="M954 277l3 3 -3 3 -3 -3z"/>
<path d="M946 275l3 3 -3 3 -3 -3z"/>
<path d="M945 277l3 3 -3 3 -3 -3z"/>
<path d="M946 280l3 3 -3 3 -3 -3z"/>
<path d="M944 282l3 3 -3 3 -3 -3z"/>
<path d="M944 285l3 3 -3 3 -3 -3z"/>
<path d="M943 288l3 3 -3 3 -3 -3z"/>
<path d="M943 292l3 3 -3 3 -3 -3z"/>
<path d="M943 296l3 3 -3 3 -3 -3z"/>
<path d="M943 299l3 3 -3 3 -3 -3z"/>
<path d="M942 301l3 3 -3 3 -3 -3z"/>
<path d="M987 258l3 3 -3 3 -3 -3z"/>
<path d="M987 263l3 3 -3 3 -3 -3z"/>
<path d="M986 267l3 3 -3 3 -3 -3z"/>
<path d="M986 269l3 3 -3 3 -3 -3z"/>
<path d="M988 271l3 3 -3 3 -3 -3z"/>
<path d="M984 273l3 3 -3 3 -3 -3z"/>
<path d="M988 275l3 3 -3 3 -3 -3z"/>
<path d="M982 276l3 3 -3 3 -3 -3z"/>
<path d="M983 278l3 3 -3 3 -3 -3z"/>
<path d="M981 279l3 3 -3 3 -3 -3z"/>
<path d="M981 285l3 3 -3 3 -3 -3z"/>
<path d="M981 288l3 3 -3 3 -3 -3z"/>
<path d="M980 291l3 3 -3 3 -3 -3z"/>
<path d="M980 294l3 3 -3 3 -3 -3z"/>
<path d="M980 300l3 3 -3 3 -3 -3z"/>
<path d="M979 303l3 3 -3 3 -3 -3z"/>
<path d="M978 306l3 3 -3 3 -3 -3z"/>
<path d="M978 310l3 3 -3 3 -3 -3z"/>
<path d="M977 318l3 3 -3 3 -3 -3z"/>
<path d="M976 321l3 3 -3 3 -3 -3z"/>
<path d="M1018 212l3 3 -3 3 -3 -3z"/>
<path d="M1018 214l3 3 -3 3 -3 -3z"/>
<path d="M1013 229l3 3 -3 3 -3 -3z"/>
<path d="M1015 231l3 3 -3 3 -3 -3z"/>
<path d="M1011 231l3 3 -3 3 -3 -3z"/>
<path d="M1016 233l3 3 -3 3 -3 -3z"/>
<path d="M1012 235l3 3 -3 3 -3 -3z"/>
<path d="M1012 236l3 3 -3 3 -3 -3z"/>
<path d="M1011 241l3 3 -3 3 -3 -3z"/>
<path d="M1011 243l3 3 -3 3 -3 -3z"/>
<path d="M1010 245l3 3 -3 3 -3 -3z"/>
<path d="M1010 249l3 3 -3 3 -3 -3z"/>
<path d="M1022 251l3 3 -3 3 -3 -3z"/>
<path d="M1021 253l3 3 -3 3 -3 -3z"/>
<path d="M1022 258l3 3 -3 3 -3 -3z"/>
<path d="M1022 266l3 3 -3 3 -3 -3z"/>
<path d="M1044 159l3 3 -3 3 -3 -3z"/>
<path d="M1048 157l3 3 -3 3 -3 -3z"/>
<path d="M1045 161l3 3 -3 3 -3 -3z"/>
<path d="M1049 160l3 3 -3 3 -3 -3z"/>
<path d="M1051 161l3 3 -3 3 -3 -3z"/>
<path d="M1043 162l3 3 -3 3 -3 -3z"/>
<path d="M1049 163l3 3 -3 3 -3 -3z"/>
<path d="M1049 167l3 3 -3 3 -3 -3z"/>
<path d="M1049 169l3 3 -3 3 -3 -3z"/>
<path d="M1045 171l3 3 -3 3 -3 -3z"/>
<path d="M1049 172l3 3 -3 3 -3 -3z"/>
<path d="M1054 173l3 3 -3 3 -3 -3z"/>
<path d="M1054 175l3 3 -3 3 -3 -3z"/>
<path d="M1054 179l3 3 -3 3 -3 -3z"/>
<path d="M1055 182l3 3 -3 3 -3 -3z"/>
<path d="M1055 187l3 3 -3 3 -3 -3z"/>
<path d="M1056 189l3 3 -3 3 -3 -3z"/>
<path d="M1056 192l3 3 -3 3 -3 -3z"/>
<path d="M1056 202l3 3 -3 3 -3 -3z"/>
<path d="M1085 101l3 3 -3 3 -3 -3z"/>
<path d="M1085 111l3 3 -3 3 -3 -3z"/>
<path d="M1086 112l3 3 -3 3 -3 -3z"/>
<path d="M1087 115l3 3 -3 3 -3 -3z"/>
<path d="M1086 116l3 3 -3 3 -3 -3z"/>
<path d="M64.3 445.6l3.1 6h-6.2z"/>
<path d="M62.3 454.6l3.1 6h-6.2z"/>
<path d="M63.3 457.6l3.1 6h-6.2z"/>
<path d="M94.3 460.6l3.1 6h-6.2z"/>
<path d="M168.3 437.6l3.1 6h-6.2z"/>
<path d="M169.3 440.6l3.1 6h-6.2z"/>
<path d="M169.3 444.6l3.1 6h-6.2z"/>
<path d="M166.3 444.6l3.1 6h-6.2z"/>
<path d="M164.3 445.6l3.1 6h-6.2z"/>
<path d="M166.3 446.6l3.1 6h-6.2z"/>
<path d="M165.3 449.6l3.1 6h-6.2z"/>
<path d="M168.3 450.6l3.1 6h-6.2z"/>
<path d="M166.3 452.6l3.1 6h-6.2z"/>
<path d="M164.3 453.6l3.1 6h-6.2z"/>
<path d="M162.3 455.6l3.1 6h-6.2z"/>
<path d="M170.3 460.6l3.1 6h-6.2z"/>
<path d="M161.3 464.6l3.1 6h-6.2z"/>
<path d="M170.3 465.6l3.1 6h-6.2z"/>
<path d="M161.3 468.6l3.1 6h-6.2z"/>
<path d="M201.3 444.6l3.1 6h-6.2z"/>
<path d="M200.3 447.6l3.1 6h-6.2z"/>
<path d="M203.3 447.6l3.1 6h-6.2z"/>
<path d="M196.3 456.6l3.1 6h-6.2z"/>
<path d="M198.3 456.6l3.1 6h-6.2z"/>
<path d="M202.3 457.6l3.1 6h-6.2z"/>
<path d="M204.3 457.6l3.1 6h-6.2z"/>
<path d="M198.3 458.6l3.1 6h-6.2z"/>
<path d="M195.3 460.6l3.1 6h-6.2z"/>
<path d="M202.3 459.6l3.1 6h-6.2z"/>
<path d="M195.3 475.6l3.1 6h-6.2z"/>
<path d="M236.3 439.6l3.1 6h-6.2z"/>
<path d="M234.3 443.6l3.1 6h-6.2z"/>
<path d="M232.3 446.6l3.1 6h-6.2z"/>
<path d="M233.3 449.6l3.1 6h-6.2z"/>
<path d="M236.3 450.6l3.1 6h-6.2z"/>
<path d="M238.3 450.6l3.1 6h-6.2z"/>
<path d="M237.3 451.6l3.1 6h-6.2z"/>
<path d="M239.3 453.6l3.1 6h-6.2z"/>
<path d="M238.3 457.6l3.1 6h-6.2z"/>
<path d="M229.3 461.6l3.1 6h-6.2z"/>
<path d="M238.3 461.6l3.1 6h-6.2z"/>
<path d="M302.3 438.6l3.1 6h-6.2z"/>
<path d="M302.3 441.6l3.1 6h-6.2z"/>
<path d="M304.3 450.6l3.1 6h-6.2z"/>
<path d="M305.3 450.6l3.1 6h-6.2z"/>
<path d="M304.3 452.6l3.1 6h-6.2z"/>
<path d="M304.3 453.6l3.1 6h-6.2z"/>
<path d="M304.3 454.6l3.1 6h-6.2z"/>
<path d="M339.3 447.6l3.1 6h-6.2z"/>
<path d="M338.3 450.6l3.1 6h-6.2z"/>
<path d="M339.3 451.6l3.1 6h-6.2z"/>
<path d="M337.3 452.6l3.1 6h-6.2z"/>
<path d="M369.3 438.6l3.1 6h-6.2z"/>
<path d="M371.3 439.6l3.1 6h-6.2z"/>
<path d="M371.3 440.6l3.1 6h-6.2z"/>
<path d="M368.3 441.6l3.1 6h-6.2z"/>
<path d="M370.3 442.6l3.1 6h-6.2z"/>
<path d="M372.3 442.6l3.1 6h-6.2z"/>
<path d="M369.3 443.6l3.1 6h-6.2z"/>
<path d="M366.3 445.6l3.1 6h-6.2z"/>
<path d="M372.3 445.6l3.1 6h-6.2z"/>
<path d="M367.3 447.6l3.1 6h-6.2z"/>
<path d="M366.3 449.6l3.1 6h-6.2z"/>
<path d="M371.3 448.6l3.1 6h-6.2z"/>
<path d="M373.3 449.6l3.1 6h-6.2z"/>
<path d="M367.3 450.6l3.1 6h-6.2z"/>
<path d="M370.3 450.6l3.1 6h-6.2z"/>
<path d="M366.3 452.6l3.1 6h-6.2z"/>
<path d="M373.3 453.6l3.1 6h-6.2z"/>
<path d="M371.3 453.6l3.1 6h-6.2z"/>
<path d="M366.3 455.6l3.1 6h-6.2z"/>
<path d="M368.3 455.6l3.1 6h-6.2z"/>
<path d="M372.3 455.6l3.1 6h-6.2z"/>
<path d="M368.3 456.6l3.1 6h-6.2z"/>
<path d="M365.3 480.6l3.1 6h-6.2z"/>
<path d="M440.3 441.6l3.1 6h-6.2z"/>
<path d="M442.3 453.6l3.1 6h-6.2z"/>
<path d="M469.3 431.6l3.1 6h-6.2z"/>
<path d="M470.3 435.6l3.1 6h-6.2z"/>
<path d="M469.3 447.6l3.1 6h-6.2z"/>
<path d="M473.3 447.6l3.1 6h-6.2z"/>
<path d="M477.3 455.6l3.1 6h-6.2z"/>
<path d="M467.3 467.6l3.1 6h-6.2z"/>
<path d="M507.3 442.6l3.1 6h-6.2z"/>
<path d="M506.3 445.6l3.1 6h-6.2z"/>
<path d="M511.3 448.6l3.1 6h-6.2z"/>
<path d="M510.3 452.6l3.1 6h-6.2z"/>
<path d="M539.3 438.6l3.1 6h-6.2z"/>
<path d="M540.3 441.6l3.1 6h-6.2z"/>
<path d="M538.3 449.6l3.1 6h-6.2z"/>
<path d="M537.3 452.6l3.1 6h-6.2z"/>
<path d="M536.3 455.6l3.1 6h-6.2z"/>
<path d="M536.3 459.6l3.1 6h-6.2z"/>
<path d="M536.3 462.6l3.1 6h-6.2z"/>
<path d="M573.3 441.6l3.1 6h-6.2z"/>
<path d="M574.3 447.6l3.1 6h-6.2z"/>
<path d="M571.3 459.6l3.1 6h-6.2z"/>
<path d="M576.3 458.6l3.1 6h-6.2z"/>
<path d="M579.3 476.6l3.1 6h-6.2z"/>
<path d="M579.3 480.6l3.1 6h-6.2z"/>
<path d="M579.3 490.6l3.1 6h-6.2z"/>
<path d="M606.3 456.6l3.1 6h-6.2z"/>
<path d="M611.3 457.6l3.1 6h-6.2z"/>
<path d="M603.3 477.6l3.1 6h-6.2z"/>
<path d="M613.3 498.6l3.1 6h-6.2z"/>
<path d="M642.3 445.6l3.1 6h-6.2z"/>
<path d="M639.3 447.6l3.1 6h-6.2z"/>
<path d="M645.3 446.6l3.1 6h-6.2z"/>
<path d="M645.3 454.6l3.1 6h-6.2z"/>
<path d="M642.3 454.6l3.1 6h-6.2z"/>
<path d="M644.3 456.6l3.1 6h-6.2z"/>
<path d="M640.3 457.6l3.1 6h-6.2z"/>
<path d="M638.3 460.6l3.1 6h-6.2z"/>
<path d="M637.3 491.6l3.1 6h-6.2z"/>
<path d="M677.3 447.6l3.1 6h-6.2z"/>
<path d="M674.3 449.6l3.1 6h-6.2z"/>
<path d="M678.3 449.6l3.1 6h-6.2z"/>
<path d="M675.3 451.6l3.1 6h-6.2z"/>
<path d="M672.3 454.6l3.1 6h-6.2z"/>
<path d="M672.3 459.6l3.1 6h-6.2z"/>
<path d="M680.3 466.6l3.1 6h-6.2z"/>
<path d="M745.3 451.6l3.1 6h-6.2z"/>
<path d="M748.3 452.6l3.1 6h-6.2z"/>
<path d="M747.3 454.6l3.1 6h-6.2z"/>
<path d="M778.3 439.6l3.1 6h-6.2z"/>
<path d="M778.3 441.6l3.1 6h-6.2z"/>
<path d="M777.3 445.6l3.1 6h-6.2z"/>
<path d="M778.3 448.6l3.1 6h-6.2z"/>
<path d="M775.3 452.6l3.1 6h-6.2z"/>
<path d="M782.3 453.6l3.1 6h-6.2z"/>
<path d="M774.3 455.6l3.1 6h-6.2z"/>
<path d="M782.3 457.6l3.1 6h-6.2z"/>
<path d="M846.3 440.6l3.1 6h-6.2z"/>
<path d="M844.3 447.6l3.1 6h-6.2z"/>
<path d="M847.3 447.6l3.1 6h-6.2z"/>
<path d="M851.3 467.6l3.1 6h-6.2z"/>
<path d="M842.3 474.6l3.1 6h-6.2z"/>
<path d="M880.3 429.6l3.1 6h-6.2z"/>
<path d="M881.3 432.6l3.1 6h-6.2z"/>
<path d="M882.3 436.6l3.1 6h-6.2z"/>
<path d="M879.3 437.6l3.1 6h-6.2z"/>
<path d="M883.3 440.6l3.1 6h-6.2z"/>
<path d="M877.3 444.6l3.1 6h-6.2z"/>
<path d="M880.3 447.6l3.1 6h-6.2z"/>
<path d="M876.3 454.6l3.1 6h-6.2z"/>
<path d="M876.3 468.6l3.1 6h-6.2z"/>
<path d="M885.3 468.6l3.1 6h-6.2z"/>
<path d="M915.3 432.6l3.1 6h-6.2z"/>
<path d="M916.3 434.6l3.1 6h-6.2z"/>
<path d="M914.3 437.6l3.1 6h-6.2z"/>
<path d="M916.3 439.6l3.1 6h-6.2z"/>
<path d="M912.3 440.6l3.1 6h-6.2z"/>
<path d="M918.3 443.6l3.1 6h-6.2z"/>
<path d="M911.3 450.6l3.1 6h-6.2z"/>
<path d="M910.3 454.6l3.1 6h-6.2z"/>
<path d="M920.3 488.6l3.1 6h-6.2z"/>
<path d="M909.3 499.6l3.1 6h-6.2z"/>
<path d="M948.3 424.6l3.1 6h-6.2z"/>
<path d="M948.3 427.6l3.1 6h-6.2z"/>
<path d="M948.3 430.6l3.1 6h-6.2z"/>
<path d="M951.3 437.6l3.1 6h-6.2z"/>
<path d="M946.3 440.6l3.1 6h-6.2z"/>
<path d="M952.3 441.6l3.1 6h-6.2z"/>
<path d="M945.3 444.6l3.1 6h-6.2z"/>
<path d="M953.3 456.6l3.1 6h-6.2z"/>
<path d="M943.3 461.6l3.1 6h-6.2z"/>
<path d="M954.3 466.6l3.1 6h-6.2z"/>
<path d="M982.3 425.6l3.1 6h-6.2z"/>
<path d="M985.3 426.6l3.1 6h-6.2z"/>
<path d="M986.3 429.6l3.1 6h-6.2z"/>
<path d="M980.3 433.6l3.1 6h-6.2z"/>
<path d="M982.3 432.6l3.1 6h-6.2z"/>
<path d="M985.3 433.6l3.1 6h-6.2z"/>
<path d="M982.3 434.6l3.1 6h-6.2z"/>
<path d="M985.3 435.6l3.1 6h-6.2z"/>
<path d="M979.3 443.6l3.1 6h-6.2z"/>
<path d="M979.3 447.6l3.1 6h-6.2z"/>
<path d="M978.3 450.6l3.1 6h-6.2z"/>
<path d="M978.3 454.6l3.1 6h-6.2z"/>
<path d="M977.3 457.6l3.1 6h-6.2z"/>
<path d="M987.3 459.6l3.1 6h-6.2z"/>
<path d="M976.3 471.6l3.1 6h-6.2z"/>
<path d="M1016.3 423.6l3.1 6h-6.2z"/>
<path d="M1016.3 431.6l3.1 6h-6.2z"/>
<path d="M1014.3 432.6l3.1 6h-6.2z"/>
<path d="M1012.3 451.6l3.1 6h-6.2z"/>
<path d="M1012.3 454.6l3.1 6h-6.2z"/>
<path d="M1022.3 469.6l3.1 6h-6.2z"/>
<path d="M1010.3 477.6l3.1 6h-6.2z"/>
<path d="M1049.3 434.6l3.1 6h-6.2z"/>
<path d="M1052.3 435.6l3.1 6h-6.2z"/>
<path d="M1054.3 439.6l3.1 6h-6.2z"/>
<path d="M1055.3 468.6l3.1 6h-6.2z"/>
<path d="M1056.3 471.6l3.1 6h-6.2z"/>
<path d="M1086.3 443.6l3.1 6h-6.2z"/>
<path d="M64.3 443.6l3.1 6h-6.2z"/>
<path d="M64.3 448.6l3.1 6h-6.2z"/>
<path d="M62.3 453.6l3.1 6h-6.2z"/>
<path d="M68.3 453.6l3.1 6h-6.2z"/>
<path d="M63.3 456.6l3.1 6h-6.2z"/>
<path d="M62.3 458.6l3.1 6h-6.2z"/>
<path d="M68.3 465.6l3.1 6h-6.2z"/>
<path d="M59.3 471.6l3.1 6h-6.2z"/>
<path d="M69.3 480.6l3.1 6h-6.2z"/>
<path d="M97.3 443.6l3.1 6h-6.2z"/>
<path d="M100.3 448.6l3.1 6h-6.2z"/>
<path d="M94.3 448.6l3.1 6h-6.2z"/>
<path d="M96.3 453.6l3.1 6h-6.2z"/>
<path d="M94.3 458.6l3.1 6h-6.2z"/>
<path d="M94.3 462.6l3.1 6h-6.2z"/>
<path d="M93.3 472.6l3.1 6h-6.2z"/>
<path d="M93.3 479.6l3.1 6h-6.2z"/>
<path d="M169.3 435.6l3.1 6h-6.2z"/>
<path d="M168.3 439.6l3.1 6h-6.2z"/>
<path d="M170.3 442.6l3.1 6h-6.2z"/>
<path d="M165.3 443.6l3.1 6h-6.2z"/>
<path d="M168.3 445.6l3.1 6h-6.2z"/>
<path d="M164.3 447.6l3.1 6h-6.2z"/>
<path d="M170.3 450.6l3.1 6h-6.2z"/>
<path d="M166.3 450.6l3.1 6h-6.2z"/>
<path d="M162.3 453.6l3.1 6h-6.2z"/>
<path d="M166.3 453.6l3.1 6h-6.2z"/>
<path d="M162.3 457.6l3.1 6h-6.2z"/>
<path d="M171.3 458.6l3.1 6h-6.2z"/>
<path d="M161.3 463.6l3.1 6h-6.2z"/>
<path d="M169.3 463.6l3.1 6h-6.2z"/>
<path d="M161.3 466.6l3.1 6h-6.2z"/>
<path d="M171.3 466.6l3.1 6h-6.2z"/>
<path d="M161.3 470.6l3.1 6h-6.2z"/>
<path d="M200.3 443.6l3.1 6h-6.2z"/>
<path d="M202.3 445.6l3.1 6h-6.2z"/>
<path d="M198.3 449.6l3.1 6h-6.2z"/>
<path d="M204.3 450.6l3.1 6h-6.2z"/>
<path d="M197.3 454.6l3.1 6h-6.2z"/>
<path d="M203.3 456.6l3.1 6h-6.2z"/>
<path d="M195.3 458.6l3.1 6h-6.2z"/>
<path d="M200.3 458.6l3.1 6h-6.2z"/>
<path d="M204.3 459.6l3.1 6h-6.2z"/>
<path d="M195.3 462.6l3.1 6h-6.2z"/>
<path d="M205.3 464.6l3.1 6h-6.2z"/>
<path d="M195.3 467.6l3.1 6h-6.2z"/>
<path d="M195.3 473.6l3.1 6h-6.2z"/>
<path d="M205.3 475.6l3.1 6h-6.2z"/>
<path d="M195.3 477.6l3.1 6h-6.2z"/>
<path d="M236.3 436.6l3.1 6h-6.2z"/>
<path d="M236.3 441.6l3.1 6h-6.2z"/>
<path d="M233.3 445.6l3.1 6h-6.2z"/>
<path d="M231.3 448.6l3.1 6h-6.2z"/>
<path d="M238.3 449.6l3.1 6h-6.2z"/>
<path d="M234.3 451.6l3.1 6h-6.2z"/>
<path d="M239.3 451.6l3.1 6h-6.2z"/>
<path d="M230.3 454.6l3.1 6h-6.2z"/>
<path d="M238.3 455.6l3.1 6h-6.2z"/>
<path d="M229.3 459.6l3.1 6h-6.2z"/>
<path d="M238.3 459.6l3.1 6h-6.2z"/>
<path d="M230.3 463.6l3.1 6h-6.2z"/>
<path d="M239.3 463.6l3.1 6h-6.2z"/>
<path d="M239.3 470.6l3.1 6h-6.2z"/>
<path d="M229.3 476.6l3.1 6h-6.2z"/>
<path d="M229.3 482.6l3.1 6h-6.2z"/>
<path d="M302.3 437.6l3.1 6h-6.2z"/>
<path d="M302.3 440.6l3.1 6h-6.2z"/>
<path d="M303.3 443.6l3.1 6h-6.2z"/>
<path d="M305.3 448.6l3.1 6h-6.2z"/>
<path d="M304.3 451.6l3.1 6h-6.2z"/>
<path d="M305.3 453.6l3.1 6h-6.2z"/>
<path d="M304.3 456.6l3.1 6h-6.2z"/>
<path d="M298.3 466.6l3.1 6h-6.2z"/>
<path d="M306.3 466.6l3.1 6h-6.2z"/>
<path d="M331.3 441.6l3.1 6h-6.2z"/>
<path d="M337.3 440.6l3.1 6h-6.2z"/>
<path d="M338.3 445.6l3.1 6h-6.2z"/>
<path d="M339.3 449.6l3.1 6h-6.2z"/>
<path d="M337.3 451.6l3.1 6h-6.2z"/>
<path d="M338.3 453.6l3.1 6h-6.2z"/>
<path d="M340.3 459.6l3.1 6h-6.2z"/>
<path d="M332.3 466.6l3.1 6h-6.2z"/>
<path d="M341.3 471.6l3.1 6h-6.2z"/>
<path d="M340.3 481.6l3.1 6h-6.2z"/>
<path d="M370.3 437.6l3.1 6h-6.2z"/>
<path d="M369.3 440.6l3.1 6h-6.2z"/>
<path d="M372.3 441.6l3.1 6h-6.2z"/>
<path d="M367.3 443.6l3.1 6h-6.2z"/>
<path d="M371.3 444.6l3.1 6h-6.2z"/>
<path d="M366.3 447.6l3.1 6h-6.2z"/>
<path d="M373.3 447.6l3.1 6h-6.2z"/>
<path d="M369.3 449.6l3.1 6h-6.2z"/>
<path d="M365.3 451.6l3.1 6h-6.2z"/>
<path d="M372.3 451.6l3.1 6h-6.2z"/>
<path d="M366.3 454.6l3.1 6h-6.2z"/>
<path d="M374.3 455.6l3.1 6h-6.2z"/>
<path d="M365.3 457.6l3.1 6h-6.2z"/>
<path d="M370.3 456.6l3.1 6h-6.2z"/>
<path d="M365.3 465.6l3.1 6h-6.2z"/>
<path d="M375.3 466.6l3.1 6h-6.2z"/>
<path d="M365.3 479.6l3.1 6h-6.2z"/>
<path d="M365.3 481.6l3.1 6h-6.2z"/>
<path d="M375.3 479.6l3.1 6h-6.2z"/>
<path d="M401.3 447.6l3.1 6h-6.2z"/>
<path d="M439.3 439.6l3.1 6h-6.2z"/>
<path d="M434.3 441.6l3.1 6h-6.2z"/>
<path d="M441.3 443.6l3.1 6h-6.2z"/>
<path d="M436.3 446.6l3.1 6h-6.2z"/>
<path d="M433.3 451.6l3.1 6h-6.2z"/>
<path d="M441.3 451.6l3.1 6h-6.2z"/>
<path d="M434.3 458.6l3.1 6h-6.2z"/>
<path d="M442.3 456.6l3.1 6h-6.2z"/>
<path d="M443.3 463.6l3.1 6h-6.2z"/>
<path d="M443.3 469.6l3.1 6h-6.2z"/>
<path d="M433.3 471.6l3.1 6h-6.2z"/>
<path d="M433.3 477.6l3.1 6h-6.2z"/>
<path d="M469.3 429.6l3.1 6h-6.2z"/>
<path d="M468.3 433.6l3.1 6h-6.2z"/>
<path d="M472.3 436.6l3.1 6h-6.2z"/>
<path d="M467.3 439.6l3.1 6h-6.2z"/>
<path d="M473.3 442.6l3.1 6h-6.2z"/>
<path d="M468.3 446.6l3.1 6h-6.2z"/>
<path d="M476.3 447.6l3.1 6h-6.2z"/>
<path d="M471.3 448.6l3.1 6h-6.2z"/>
<path d="M467.3 453.6l3.1 6h-6.2z"/>
<path d="M477.3 454.6l3.1 6h-6.2z"/>
<path d="M477.3 457.6l3.1 6h-6.2z"/>
<path d="M467.3 459.6l3.1 6h-6.2z"/>
<path d="M467.3 466.6l3.1 6h-6.2z"/>
<path d="M467.3 468.6l3.1 6h-6.2z"/>
<path d="M504.3 435.6l3.1 6h-6.2z"/>
<path d="M508.3 440.6l3.1 6h-6.2z"/>
<path d="M506.3 444.6l3.1 6h-6.2z"/>
<path d="M511.3 446.6l3.1 6h-6.2z"/>
<path d="M506.3 446.6l3.1 6h-6.2z"/>
<path d="M510.3 450.6l3.1 6h-6.2z"/>
<path d="M510.3 453.6l3.1 6h-6.2z"/>
<path d="M511.3 461.6l3.1 6h-6.2z"/>
<path d="M539.3 437.6l3.1 6h-6.2z"/>
<path d="M540.3 439.6l3.1 6h-6.2z"/>
<path d="M540.3 443.6l3.1 6h-6.2z"/>
<path d="M545.3 446.6l3.1 6h-6.2z"/>
<path d="M537.3 448.6l3.1 6h-6.2z"/>
<path d="M538.3 451.6l3.1 6h-6.2z"/>
<path d="M537.3 454.6l3.1 6h-6.2z"/>
<path d="M536.3 457.6l3.1 6h-6.2z"/>
<path d="M536.3 460.6l3.1 6h-6.2z"/>
<path d="M536.3 464.6l3.1 6h-6.2z"/>
<path d="M535.3 479.6l3.1 6h-6.2z"/>
<path d="M571.3 440.6l3.1 6h-6.2z"/>
<path d="M575.3 441.6l3.1 6h-6.2z"/>
<path d="M571.3 446.6l3.1 6h-6.2z"/>
<path d="M576.3 447.6l3.1 6h-6.2z"/>
<path d="M570.3 452.6l3.1 6h-6.2z"/>
<path d="M577.3 453.6l3.1 6h-6.2z"/>
<path d="M569.3 459.6l3.1 6h-6.2z"/>
<path d="M574.3 459.6l3.1 6h-6.2z"/>
<path d="M578.3 458.6l3.1 6h-6.2z"/>
<path d="M578.3 463.6l3.1 6h-6.2z"/>
<path d="M579.3 475.6l3.1 6h-6.2z"/>
<path d="M578.3 478.6l3.1 6h-6.2z"/>
<path d="M579.3 482.6l3.1 6h-6.2z"/>
<path d="M579.3 489.6l3.1 6h-6.2z"/>
<path d="M579.3 491.6l3.1 6h-6.2z"/>
<path d="M579.3 502.6l3.1 6h-6.2z"/>
<path d="M579.3 511.6l3.1 6h-6.2z"/>
<path d="M568.3 530.6l3.1 6h-6.2z"/>
<path d="M610.3 440.6l3.1 6h-6.2z"/>
<path d="M608.3 446.6l3.1 6h-6.2z"/>
<path d="M611.3 451.6l3.1 6h-6.2z"/>
<path d="M604.3 455.6l3.1 6h-6.2z"/>
<path d="M608.3 456.6l3.1 6h-6.2z"/>
<path d="M613.3 457.6l3.1 6h-6.2z"/>
<path d="M606.3 463.6l3.1 6h-6.2z"/>
<path d="M604.3 468.6l3.1 6h-6.2z"/>
<path d="M604.3 475.6l3.1 6h-6.2z"/>
<path d="M603.3 479.6l3.1 6h-6.2z"/>
<path d="M613.3 482.6l3.1 6h-6.2z"/>
<path d="M603.3 494.6l3.1 6h-6.2z"/>
<path d="M613.3 496.6l3.1 6h-6.2z"/>
<path d="M613.3 500.6l3.1 6h-6.2z"/>
<path d="M603.3 522.6l3.1 6h-6.2z"/>
<path d="M603.3 537.6l3.1 6h-6.2z"/>
<path d="M602.3 556.6l3.1 6h-6.2z"/>
<path d="M639.3 445.6l3.1 6h-6.2z"/>
<path d="M644.3 445.6l3.1 6h-6.2z"/>
<path d="M646.3 447.6l3.1 6h-6.2z"/>
<path d="M639.3 449.6l3.1 6h-6.2z"/>
<path d="M643.3 452.6l3.1 6h-6.2z"/>
<path d="M646.3 456.6l3.1 6h-6.2z"/>
<path d="M638.3 459.6l3.1 6h-6.2z"/>
<path d="M641.3 456.6l3.1 6h-6.2z"/>
<path d="M639.3 462.6l3.1 6h-6.2z"/>
<path d="M646.3 461.6l3.1 6h-6.2z"/>
<path d="M647.3 467.6l3.1 6h-6.2z"/>
<path d="M647.3 474.6l3.1 6h-6.2z"/>
<path d="M637.3 477.6l3.1 6h-6.2z"/>
<path d="M637.3 490.6l3.1 6h-6.2z"/>
<path d="M637.3 492.6l3.1 6h-6.2z"/>
<path d="M636.3 510.6l3.1 6h-6.2z"/>
<path d="M679.3 435.6l3.1 6h-6.2z"/>
<path d="M680.3 440.6l3.1 6h-6.2z"/>
<path d="M675.3 447.6l3.1 6h-6.2z"/>
<path d="M679.3 447.6l3.1 6h-6.2z"/>
<path d="M673.3 451.6l3.1 6h-6.2z"/>
<path d="M678.3 451.6l3.1 6h-6.2z"/>
<path d="M672.3 456.6l3.1 6h-6.2z"/>
<path d="M680.3 456.6l3.1 6h-6.2z"/>
<path d="M672.3 461.6l3.1 6h-6.2z"/>
<path d="M680.3 463.6l3.1 6h-6.2z"/>
<path d="M680.3 468.6l3.1 6h-6.2z"/>
<path d="M680.3 475.6l3.1 6h-6.2z"/>
<path d="M681.3 500.6l3.1 6h-6.2z"/>
<path d="M682.3 508.6l3.1 6h-6.2z"/>
<path d="M715.3 466.6l3.1 6h-6.2z"/>
<path d="M715.3 473.6l3.1 6h-6.2z"/>
<path d="M715.3 479.6l3.1 6h-6.2z"/>
<path d="M716.3 494.6l3.1 6h-6.2z"/>
<path d="M745.3 437.6l3.1 6h-6.2z"/>
<path d="M742.3 446.6l3.1 6h-6.2z"/>
<path d="M742.3 451.6l3.1 6h-6.2z"/>
<path d="M747.3 451.6l3.1 6h-6.2z"/>
<path d="M748.3 453.6l3.1 6h-6.2z"/>
<path d="M746.3 455.6l3.1 6h-6.2z"/>
<path d="M749.3 459.6l3.1 6h-6.2z"/>
<path d="M749.3 471.6l3.1 6h-6.2z"/>
<path d="M776.3 427.6l3.1 6h-6.2z"/>
<path d="M777.3 437.6l3.1 6h-6.2z"/>
<path d="M779.3 440.6l3.1 6h-6.2z"/>
<path d="M776.3 443.6l3.1 6h-6.2z"/>
<path d="M778.3 446.6l3.1 6h-6.2z"/>
<path d="M777.3 451.6l3.1 6h-6.2z"/>
<path d="M782.3 451.6l3.1 6h-6.2z"/>
<path d="M773.3 454.6l3.1 6h-6.2z"/>
<path d="M774.3 457.6l3.1 6h-6.2z"/>
<path d="M782.3 455.6l3.1 6h-6.2z"/>
<path d="M783.3 459.6l3.1 6h-6.2z"/>
<path d="M783.3 473.6l3.1 6h-6.2z"/>
<path d="M848.3 420.6l3.1 6h-6.2z"/>
<path d="M847.3 438.6l3.1 6h-6.2z"/>
<path d="M846.3 442.6l3.1 6h-6.2z"/>
<path d="M842.3 447.6l3.1 6h-6.2z"/>
<path d="M849.3 447.6l3.1 6h-6.2z"/>
<path d="M845.3 447.6l3.1 6h-6.2z"/>
<path d="M851.3 459.6l3.1 6h-6.2z"/>
<path d="M851.3 466.6l3.1 6h-6.2z"/>
<path d="M851.3 469.6l3.1 6h-6.2z"/>
<path d="M842.3 471.6l3.1 6h-6.2z"/>
<path d="M841.3 476.6l3.1 6h-6.2z"/>
<path d="M851.3 487.6l3.1 6h-6.2z"/>
<path d="M852.3 492.6l3.1 6h-6.2z"/>
<path d="M852.3 501.6l3.1 6h-6.2z"/>
<path d="M841.3 503.6l3.1 6h-6.2z"/>
<path d="M841.3 512.6l3.1 6h-6.2z"/>
<path d="M852.3 516.6l3.1 6h-6.2z"/>
<path d="M881.3 427.6l3.1 6h-6.2z"/>
<path d="M880.3 431.6l3.1 6h-6.2z"/>
<path d="M882.3 433.6l3.1 6h-6.2z"/>
<path d="M877.3 436.6l3.1 6h-6.2z"/>
<path d="M881.3 438.6l3.1 6h-6.2z"/>
<path d="M876.3 442.6l3.1 6h-6.2z"/>
<path d="M884.3 442.6l3.1 6h-6.2z"/>
<path d="M878.3 446.6l3.1 6h-6.2z"/>
<path d="M882.3 447.6l3.1 6h-6.2z"/>
<path d="M877.3 453.6l3.1 6h-6.2z"/>
<path d="M876.3 455.6l3.1 6h-6.2z"/>
<path d="M884.3 459.6l3.1 6h-6.2z"/>
<path d="M876.3 466.6l3.1 6h-6.2z"/>
<path d="M876.3 470.6l3.1 6h-6.2z"/>
<path d="M885.3 467.6l3.1 6h-6.2z"/>
<path d="M885.3 469.6l3.1 6h-6.2z"/>
<path d="M885.3 480.6l3.1 6h-6.2z"/>
<path d="M885.3 489.6l3.1 6h-6.2z"/>
<path d="M885.3 500.6l3.1 6h-6.2z"/>
<path d="M875.3 502.6l3.1 6h-6.2z"/>
<path d="M886.3 512.6l3.1 6h-6.2z"/>
<path d="M875.3 515.6l3.1 6h-6.2z"/>
<path d="M886.3 522.6l3.1 6h-6.2z"/>
<path d="M886.3 535.6l3.1 6h-6.2z"/>
<path d="M915.3 418.6l3.1 6h-6.2z"/>
<path d="M915.3 427.6l3.1 6h-6.2z"/>
<path d="M917.3 432.6l3.1 6h-6.2z"/>
<path d="M913.3 432.6l3.1 6h-6.2z"/>
<path d="M915.3 436.6l3.1 6h-6.2z"/>
<path d="M912.3 438.6l3.1 6h-6.2z"/>
<path d="M917.3 441.6l3.1 6h-6.2z"/>
<path d="M911.3 443.6l3.1 6h-6.2z"/>
<path d="M918.3 446.6l3.1 6h-6.2z"/>
<path d="M911.3 449.6l3.1 6h-6.2z"/>
<path d="M919.3 452.6l3.1 6h-6.2z"/>
<path d="M911.3 452.6l3.1 6h-6.2z"/>
<path d="M910.3 456.6l3.1 6h-6.2z"/>
<path d="M919.3 457.6l3.1 6h-6.2z"/>
<path d="M910.3 465.6l3.1 6h-6.2z"/>
<path d="M919.3 465.6l3.1 6h-6.2z"/>
<path d="M909.3 474.6l3.1 6h-6.2z"/>
<path d="M919.3 471.6l3.1 6h-6.2z"/>
<path d="M920.3 477.6l3.1 6h-6.2z"/>
<path d="M920.3 486.6l3.1 6h-6.2z"/>
<path d="M920.3 491.6l3.1 6h-6.2z"/>
<path d="M909.3 499.6l3.1 6h-6.2z"/>
<path d="M909.3 500.6l3.1 6h-6.2z"/>
<path d="M908.3 518.6l3.1 6h-6.2z"/>
<path d="M946.3 425.6l3.1 6h-6.2z"/>
<path d="M950.3 423.6l3.1 6h-6.2z"/>
<path d="M946.3 431.6l3.1 6h-6.2z"/>
<path d="M950.3 429.6l3.1 6h-6.2z"/>
<path d="M951.3 435.6l3.1 6h-6.2z"/>
<path d="M946.3 438.6l3.1 6h-6.2z"/>
<path d="M951.3 439.6l3.1 6h-6.2z"/>
<path d="M946.3 442.6l3.1 6h-6.2z"/>
<path d="M953.3 443.6l3.1 6h-6.2z"/>
<path d="M944.3 446.6l3.1 6h-6.2z"/>
<path d="M953.3 449.6l3.1 6h-6.2z"/>
<path d="M944.3 453.6l3.1 6h-6.2z"/>
<path d="M953.3 454.6l3.1 6h-6.2z"/>
<path d="M943.3 460.6l3.1 6h-6.2z"/>
<path d="M943.3 463.6l3.1 6h-6.2z"/>
<path d="M953.3 458.6l3.1 6h-6.2z"/>
<path d="M954.3 464.6l3.1 6h-6.2z"/>
<path d="M954.3 468.6l3.1 6h-6.2z"/>
<path d="M943.3 475.6l3.1 6h-6.2z"/>
<path d="M954.3 481.6l3.1 6h-6.2z"/>
<path d="M983.3 417.6l3.1 6h-6.2z"/>
<path d="M980.3 425.6l3.1 6h-6.2z"/>
<path d="M983.3 425.6l3.1 6h-6.2z"/>
<path d="M986.3 428.6l3.1 6h-6.2z"/>
<path d="M981.3 431.6l3.1 6h-6.2z"/>
<path d="M986.3 431.6l3.1 6h-6.2z"/>
<path d="M980.3 435.6l3.1 6h-6.2z"/>
<path d="M983.3 434.6l3.1 6h-6.2z"/>
<path d="M987.3 437.6l3.1 6h-6.2z"/>
<path d="M980.3 441.6l3.1 6h-6.2z"/>
<path d="M979.3 445.6l3.1 6h-6.2z"/>
<path d="M978.3 448.6l3.1 6h-6.2z"/>
<path d="M986.3 449.6l3.1 6h-6.2z"/>
<path d="M978.3 452.6l3.1 6h-6.2z"/>
<path d="M977.3 455.6l3.1 6h-6.2z"/>
<path d="M987.3 457.6l3.1 6h-6.2z"/>
<path d="M976.3 459.6l3.1 6h-6.2z"/>
<path d="M987.3 461.6l3.1 6h-6.2z"/>
<path d="M976.3 469.6l3.1 6h-6.2z"/>
<path d="M976.3 472.6l3.1 6h-6.2z"/>
<path d="M988.3 474.6l3.1 6h-6.2z"/>
<path d="M1014.3 422.6l3.1 6h-6.2z"/>
<path d="M1018.3 425.6l3.1 6h-6.2z"/>
<path d="M1014.3 430.6l3.1 6h-6.2z"/>
<path d="M1018.3 431.6l3.1 6h-6.2z"/>
<path d="M1014.3 435.6l3.1 6h-6.2z"/>
<path d="M1012.3 443.6l3.1 6h-6.2z"/>
<path d="M1012.3 449.6l3.1 6h-6.2z"/>
<path d="M1012.3 452.6l3.1 6h-6.2z"/>
<path d="M1012.3 456.6l3.1 6h-6.2z"/>
<path d="M1021.3 454.6l3.1 6h-6.2z"/>
<path d="M1022.3 467.6l3.1 6h-6.2z"/>
<path d="M1022.3 470.6l3.1 6h-6.2z"/>
<path d="M1010.3 474.6l3.1 6h-6.2z"/>
<path d="M1011.3 479.6l3.1 6h-6.2z"/>
<path d="M1010.3 487.6l3.1 6h-6.2z"/>
<path d="M1049.3 426.6l3.1 6h-6.2z"/>
<path d="M1047.3 434.6l3.1 6h-6.2z"/>
<path d="M1051.3 434.6l3.1 6h-6.2z"/>
<path d="M1054.3 437.6l3.1 6h-6.2z"/>
<path d="M1048.3 439.6l3.1 6h-6.2z"/>
<path d="M1054.3 442.6l3.1 6h-6.2z"/>
<path d="M1048.3 446.6l3.1 6h-6.2z"/>
<path d="M1054.3 449.6l3.1 6h-6.2z"/>
<path d="M1045.3 464.6l3.1 6h-6.2z"/>
<path d="M1055.3 466.6l3.1 6h-6.2z"/>
<path d="M1056.3 470.6l3.1 6h-6.2z"/>
<path d="M1056.3 473.6l3.1 6h-6.2z"/>
<path d="M1056.3 490.6l3.1 6h-6.2z"/>
<path d="M1045.3 500.6l3.1 6h-6.2z"/>
<path d="M1056.3 505.6l3.1 6h-6.2z"/>
<path d="M1044.3 519.6l3.1 6h-6.2z"/>
<path d="M1085.3 419.6l3.1 6h-6.2z"/>
<path d="M1086.3 442.6l3.1 6h-6.2z"/>
<path d="M1086.3 444.6l3.1 6h-6.2z"/>
</g>
<g stroke="#000" shape-rendering="crispEdges" fill="none">
<path d="M55 40V572" stroke-width="1" transform="translate(0.5 0)"/>
<path d="M1091.5 39V572" stroke-width="1"/>
<rect x="54" y="39" width="2" height="374" fill="#000" stroke="none"/>
<rect x="54" y="39" width="1038" height="2" fill="#000" stroke="none"/>
<rect x="1090" y="411" width="2" height="162" fill="#000" stroke="none"/>
<rect x="55" y="571" width="1037" height="2" fill="#000" stroke="none"/>
<rect x="59" y="411" width="1029" height="2" fill="#000" stroke="none"/>
<path d="M55 40.5H1090" stroke="#d4d4d4" stroke-dasharray="3 3"/>
</g>
<g stroke="#808080" stroke-width="1" shape-rendering="crispEdges" fill="none">
<path d="M51 40.5H56"/>
<path d="M53 45.5H54"/>
<path d="M53 49.5H54"/>
<path d="M53 54.5H54"/>
<path d="M53 59.5H54"/>
<path d="M51 63.5H56"/>
<path d="M53 68.5H54"/>
<path d="M53 73.5H54"/>
<path d="M53 77.5H54"/>
<path d="M53 82.5H54"/>
<path d="M51 86.5H56"/>
<path d="M53 91.5H54"/>
<path d="M53 96.5H54"/>
<path d="M53 100.5H54"/>
<path d="M53 105.5H54"/>
<path d="M51 110.5H56"/>
<path d="M53 114.5H54"/>
<path d="M53 119.5H54"/>
<path d="M53 124.5H54"/>
<path d="M53 128.5H54"/>
<path d="M51 133.5H56"/>
<path d="M53 138.5H54"/>
<path d="M53 142.5H54"/>
<path d="M53 147.5H54"/>
<path d="M53 152.5H54"/>
<path d="M51 156.5H56"/>
<path d="M53 161.5H54"/>
<path d="M53 166.5H54"/>
<path d="M53 170.5H54"/>
<path d="M53 175.5H54"/>
<path d="M51 180.5H56"/>
<path d="M53 184.5H54"/>
<path d="M53 189.5H54"/>
<path d="M53 193.5H54"/>
<path d="M53 198.5H54"/>
<path d="M51 203.5H56"/>
<path d="M53 207.5H54"/>
<path d="M53 212.5H54"/>
<path d="M53 217.5H54"/>
<path d="M53 221.5H54"/>
<path d="M51 226.5H56"/>
<path d="M53 231.5H54"/>
<path d="M53 235.5H54"/>
<path d="M53 240.5H54"/>
<path d="M53 245.5H54"/>
<path d="M51 249.5H56"/>
<path d="M53 254.5H54"/>
<path d="M53 259.5H54"/>
<path d="M53 263.5H54"/>
<path d="M53 268.5H54"/>
<path d="M51 272.5H56"/>
<path d="M53 277.5H54"/>
<path d="M53 282.5H54"/>
<path d="M53 286.5H54"/>
<path d="M53 291.5H54"/>
<path d="M51 296.5H56"/>
<path d="M53 300.5H54"/>
<path d="M53 305.5H54"/>
<path d="M53 310.5H54"/>
<path d="M53 314.5H54"/>
<path d="M51 319.5H56"/>
<path d="M53 324.5H54"/>
<path d="M53 328.5H54"/>
<path d="M53 333.5H54"/>
<path d="M53 338.5H54"/>
<path d="M51 342.5H56"/>
<path d="M53 347.5H54"/>
<path d="M53 352.5H54"/>
<path d="M53 356.5H54"/>
<path d="M53 361.5H54"/>
<path d="M51 366.5H56"/>
<path d="M53 370.5H54"/>
<path d="M53 375.5H54"/>
<path d="M53 379.5H54"/>
<path d="M53 384.5H54"/>
<path d="M51 389.5H56"/>
<path d="M53 393.5H54"/>
<path d="M53 398.5H54"/>
<path d="M53 403.5H54"/>
<path d="M53 407.5H54"/>
<path d="M51 412.5H56"/>
<path d="M1092 412.5H1096"/>
<path d="M1092 430.5H1096"/>
<path d="M1092 448.5H1096"/>
<path d="M1092 465.5H1096"/>
<path d="M1092 483.5H1096"/>
<path d="M1092 501.5H1096"/>
<path d="M1092 519.5H1096"/>
<path d="M1092 537.5H1096"/>
<path d="M1092 554.5H1096"/>
<path d="M1092 416.5H1094"/>
<path d="M1092 421.5H1094"/>
<path d="M1092 425.5H1094"/>
<path d="M1092 434.5H1094"/>
<path d="M1092 439.5H1094"/>
<path d="M1092 443.5H1094"/>
<path d="M1092 452.5H1094"/>
<path d="M1092 456.5H1094"/>
<path d="M1092 461.5H1094"/>
<path d="M1092 470.5H1094"/>
<path d="M1092 474.5H1094"/>
<path d="M1092 479.5H1094"/>
<path d="M1092 488.5H1094"/>
<path d="M1092 492.5H1094"/>
<path d="M1092 497.5H1094"/>
<path d="M1092 505.5H1094"/>
<path d="M1092 510.5H1094"/>
<path d="M1092 514.5H1094"/>
<path d="M1092 523.5H1094"/>
<path d="M1092 528.5H1094"/>
<path d="M1092 532.5H1094"/>
<path d="M1092 541.5H1094"/>
<path d="M1092 546.5H1094"/>
<path d="M1092 550.5H1094"/>
<path d="M1092 559.5H1094"/>
<path d="M1092 563.5H1094"/>
<path d="M1092 568.5H1094"/>
<path d="M66.5 573V575"/>
<path d="M83.5 573V575"/>
<path d="M100.5 573V575"/>
<path d="M117.5 573V577"/>
<path d="M134.5 573V575"/>
<path d="M151.5 573V575"/>
<path d="M168.5 573V575"/>
<path d="M185.5 573V577"/>
<path d="M202.5 573V575"/>
<path d="M219.5 573V575"/>
<path d="M236.5 573V575"/>
<path d="M253.5 573V577"/>
<path d="M270.5 573V575"/>
<path d="M287.5 573V575"/>
<path d="M304.5 573V575"/>
<path d="M321.5 573V577"/>
<path d="M338.5 573V575"/>
<path d="M355.5 573V575"/>
<path d="M372.5 573V575"/>
<path d="M389.5 573V577"/>
<path d="M406.5 573V575"/>
<path d="M423.5 573V575"/>
<path d="M440.5 573V575"/>
<path d="M457.5 573V577"/>
<path d="M474.5 573V575"/>
<path d="M491.5 573V575"/>
<path d="M508.5 573V575"/>
<path d="M525.5 573V577"/>
<path d="M542.5 573V575"/>
<path d="M559.5 573V575"/>
<path d="M576.5 573V575"/>
<path d="M593.5 573V577"/>
<path d="M610.5 573V575"/>
<path d="M627.5 573V575"/>
<path d="M644.5 573V575"/>
<path d="M661.5 573V577"/>
<path d="M678.5 573V575"/>
<path d="M695.5 573V575"/>
<path d="M712.5 573V575"/>
<path d="M729.5 573V577"/>
<path d="M746.5 573V575"/>
<path d="M763.5 573V575"/>
<path d="M780.5 573V575"/>
<path d="M797.5 573V577"/>
<path d="M814.5 573V575"/>
<path d="M831.5 573V575"/>
<path d="M848.5 573V575"/>
<path d="M865.5 573V577"/>
<path d="M882.5 573V575"/>
<path d="M899.5 573V575"/>
<path d="M916.5 573V575"/>
<path d="M933.5 573V577"/>
<path d="M950.5 573V575"/>
<path d="M967.5 573V575"/>
<path d="M984.5 573V575"/>
<path d="M1001.5 573V577"/>
<path d="M1018.5 573V575"/>
<path d="M1035.5 573V575"/>
<path d="M1052.5 573V575"/>
<path d="M1069.5 573V577"/>
<path d="M1086.5 573V575"/>
</g>
<g font-family='"Liberation Sans", Arial, sans-serif' fill="#000">
<g font-size="10" text-anchor="end">
<text x="48.5" y="44">440</text>
<text x="48.5" y="67">430</text>
<text x="48.5" y="90">420</text>
<text x="48.5" y="114">410</text>
<text x="48.5" y="137">400</text>
<text x="48.5" y="160">390</text>
<text x="48.5" y="184">380</text>
<text x="48.5" y="207">370</text>
<text x="48.5" y="230">360</text>
<text x="48.5" y="253">350</text>
<text x="48.5" y="276">340</text>
<text x="48.5" y="300">330</text>
<text x="48.5" y="323">320</text>
<text x="48.5" y="346">310</text>
<text x="48.5" y="370">300</text>
<text x="48.5" y="393">290</text>
<text x="48.5" y="416">280</text>
</g>
<g font-size="10">
<text x="1097" y="416">3</text>
<text x="1097" y="434">2</text>
<text x="1097" y="452">1</text>
<text x="1097" y="469">0</text>
<text x="1097" y="487">-1</text>
<text x="1097" y="505">-2</text>
<text x="1097" y="523">-3</text>
<text x="1097" y="541">-4</text>
<text x="1097" y="558">-5</text>
</g>
<g font-size="10.3" text-anchor="middle">
<text x="116.4" y="589">03/03/21</text>
<text x="184.4" y="589">05/03/21</text>
<text x="252.4" y="589">07/03/21</text>
<text x="320.4" y="589">09/03/21</text>
<text x="388.4" y="589">11/03/21</text>
<text x="456.4" y="589">13/03/21</text>
<text x="524.4" y="589">15/03/21</text>
<text x="592.4" y="589">17/03/21</text>
<text x="660.4" y="589">19/03/21</text>
<text x="728.4" y="589">21/03/21</text>
<text x="796.4" y="589">23/03/21</text>
<text x="864.4" y="589">25/03/21</text>
<text x="932.4" y="589">27/03/21</text>
<text x="1000.4" y="589">29/03/21</text>
<text x="1068.4" y="589">31/03/21</text>
</g>
<g font-size="10" text-anchor="middle">
<text x="54.5" y="31">2,4</text>
<text x="83.8" y="31">3,5</text>
<text x="152.4" y="31">3,5</text>
<text x="196.6" y="31">1,4</text>
<text x="240.5" y="31">5,0</text>
<text x="289.5" y="31">3,5</text>
<text x="333.6" y="31">1,4</text>
<text x="377.8" y="31">4,9</text>
<text x="426.8" y="31">3,5</text>
<text x="470.7" y="31">1,3</text>
<text x="514.9" y="31">4,9</text>
<text x="563.3" y="31">3,5</text>
<text x="608" y="31">1,3</text>
<text x="651.7" y="31">4,9</text>
<text x="700.6" y="31">3,4</text>
<text x="745.1" y="31">1,3</text>
<text x="789.8" y="31">4,9</text>
<text x="837.3" y="31">3,5</text>
<text x="882.6" y="31">1,2</text>
<text x="926.7" y="31">5,0</text>
<text x="974.7" y="31">3,5</text>
<text x="1019.4" y="31">1,2</text>
<text x="1064.1" y="31">5,1</text>
</g>
</g>
<g stroke="#808080" shape-rendering="crispEdges">
<path d="M54.5 36V41"/>
<path d="M84.5 36V41"/>
<path d="M152.5 36V41"/>
<path d="M197.5 36V41"/>
<path d="M240.5 36V41"/>
<path d="M290.5 36V41"/>
<path d="M334.5 36V41"/>
<path d="M378.5 36V41"/>
<path d="M427.5 36V41"/>
<path d="M471.5 36V41"/>
<path d="M515.5 36V41"/>
<path d="M563.5 36V41"/>
<path d="M608.5 36V41"/>
<path d="M652.5 36V41"/>
<path d="M701.5 36V41"/>
<path d="M745.5 36V41"/>
<path d="M790.5 36V41"/>
<path d="M837.5 36V41"/>
<path d="M883.5 36V41"/>
<path d="M927.5 36V41"/>
<path d="M975.5 36V41"/>
<path d="M1019.5 36V41"/>
<path d="M1064.5 36V41"/>
<path d="M62.5 38V41"/>
<path d="M69.5 38V41"/>
<path d="M76.5 38V41"/>
<path d="M101.5 38V41"/>
<path d="M118.5 38V41"/>
<path d="M135.5 38V41"/>
<path d="M163.5 38V41"/>
<path d="M174.5 38V41"/>
<path d="M186.5 38V41"/>
<path d="M208.5 38V41"/>
<path d="M219.5 38V41"/>
<path d="M230.5 38V41"/>
<path d="M253.5 38V41"/>
<path d="M265.5 38V41"/>
<path d="M277.5 38V41"/>
<path d="M301.5 38V41"/>
<path d="M312.5 38V41"/>
<path d="M323.5 38V41"/>
<path d="M345.5 38V41"/>
<path d="M356.5 38V41"/>
<path d="M367.5 38V41"/>
<path d="M390.5 38V41"/>
<path d="M402.5 38V41"/>
<path d="M415.5 38V41"/>
<path d="M438.5 38V41"/>
<path d="M449.5 38V41"/>
<path d="M460.5 38V41"/>
<path d="M482.5 38V41"/>
<path d="M493.5 38V41"/>
<path d="M504.5 38V41"/>
<path d="M527.5 38V41"/>
<path d="M539.5 38V41"/>
<path d="M551.5 38V41"/>
<path d="M574.5 38V41"/>
<path d="M586.5 38V41"/>
<path d="M597.5 38V41"/>
<path d="M619.5 38V41"/>
<path d="M630.5 38V41"/>
<path d="M641.5 38V41"/>
<path d="M664.5 38V41"/>
<path d="M676.5 38V41"/>
<path d="M688.5 38V41"/>
<path d="M712.5 38V41"/>
<path d="M723.5 38V41"/>
<path d="M734.5 38V41"/>
<path d="M756.5 38V41"/>
<path d="M767.5 38V41"/>
<path d="M779.5 38V41"/>
<path d="M802.5 38V41"/>
<path d="M814.5 38V41"/>
<path d="M825.5 38V41"/>
<path d="M849.5 38V41"/>
<path d="M860.5 38V41"/>
<path d="M871.5 38V41"/>
<path d="M894.5 38V41"/>
<path d="M905.5 38V41"/>
<path d="M916.5 38V41"/>
<path d="M939.5 38V41"/>
<path d="M951.5 38V41"/>
<path d="M963.5 38V41"/>
<path d="M986.5 38V41"/>
<path d="M997.5 38V41"/>
<path d="M1008.5 38V41"/>
<path d="M1031.5 38V41"/>
<path d="M1042.5 38V41"/>
<path d="M1053.5 38V41"/>
<path d="M1072.5 38V41"/>
<path d="M1079.5 38V41"/>
<path d="M1086.5 38V41"/>
</g>
<text x="572.5" y="17" font-family='"Liberation Sans", Arial, sans-serif' font-size="11" text-anchor="middle">Ozone airmass factor</text>
<text x="573.3" y="602.6" font-family='"Liberation Sans", Arial, sans-serif' font-size="10" text-anchor="middle">UTC</text>
<text x="569.7" y="622.6" font-family='"Liberation Sans", Arial, sans-serif' font-size="12.2" fill="#008080" text-anchor="middle">Athens (37,99N,23,78E)</text>
<text transform="translate(24.6 226.5) rotate(-90)" font-family='"Liberation Sans", Arial, sans-serif' font-size="11" text-anchor="middle">Ozone, DU</text>
<text transform="translate(1113 491) rotate(90)" font-family='"Liberation Sans", Arial, sans-serif' font-size="10.8" text-anchor="middle">SO2, DU</text>
<g shape-rendering="crispEdges">
<rect x="1163.5" y="63.5" width="182" height="31" fill="#fff" stroke="#000"/>
<path d="M1163 79.5H1346" stroke="#000"/>
</g>
<g fill="#0000ff" stroke="#000" stroke-width="1" shape-rendering="crispEdges">
<path d="M1196 69l3 3 -3 3 -3 -3z"/>
<path d="M1196.4 83.6l3.1 6h-6.2z"/>
</g>
<text x="1228.6" y="76" font-family='"Liberation Sans", Arial, sans-serif' font-size="10.8" xml:space="preserve">001 ds o3  n (dR6: -13)</text>
<text x="1228.6" y="90.6" font-family='"Liberation Sans", Arial, sans-serif' font-size="10.8">001 ds so2 n (dR5: -30)</text>
</svg></body></html>
